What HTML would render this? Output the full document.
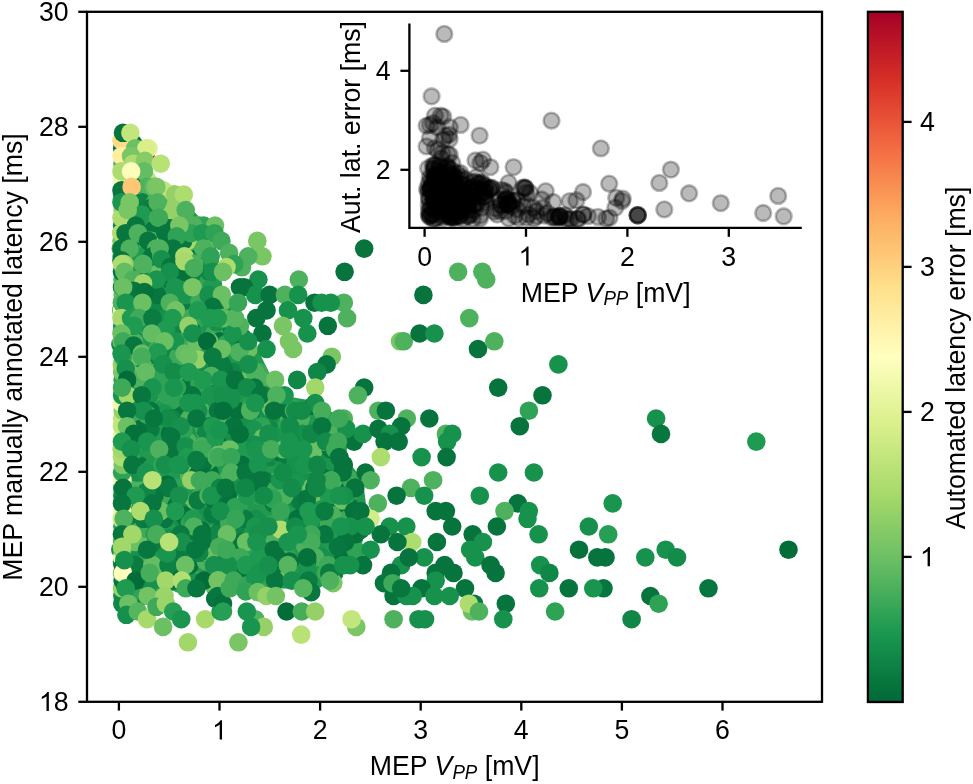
<!DOCTYPE html>
<html><head><meta charset="utf-8"><style>
html,body{margin:0;padding:0;background:#fff;width:973px;height:784px;overflow:hidden}
svg{display:block;will-change:transform}
.t{font-family:"Liberation Sans",sans-serif;font-size:26.7px;fill:#000}
</style></head><body>
<svg width="973" height="784" viewBox="0 0 973 784"><defs><linearGradient id="cb" x1="0" y1="1" x2="0" y2="0"><stop offset="0.00" stop-color="rgb(0, 104, 55)"/><stop offset="0.10" stop-color="rgb(26, 152, 80)"/><stop offset="0.20" stop-color="rgb(102, 189, 99)"/><stop offset="0.30" stop-color="rgb(166, 217, 106)"/><stop offset="0.40" stop-color="rgb(217, 239, 139)"/><stop offset="0.50" stop-color="rgb(255, 255, 191)"/><stop offset="0.60" stop-color="rgb(254, 224, 139)"/><stop offset="0.70" stop-color="rgb(253, 174, 97)"/><stop offset="0.80" stop-color="rgb(244, 109, 67)"/><stop offset="0.90" stop-color="rgb(215, 48, 39)"/><stop offset="1.00" stop-color="rgb(165, 0, 38)"/></linearGradient></defs><rect width="973" height="784" fill="#fff"/><path d="M116.0,133.8 116.0,358.2 118.2,363.2 119.2,371.8 118.8,378.5 116.0,383.5 116.0,391.5 121.0,401.0 121.0,421.2 119.2,431.8 116.0,437.5 116.0,453.5 123.0,460.2 125.5,466.8 124.2,475.5 116.0,486.5 116.0,550.8 117.5,555.2 116.0,574.2 118.8,581.8 118.8,589.8 121.2,596.0 121.5,603.0 140.0,603.0 174.8,590.0 319.5,588.0 334.8,577.8 358.2,558.8 368.0,519.8 363.0,480.8 348.0,460.5 343.0,421.0 319.0,401.8 283.0,395.8 268.8,372.0 256.0,345.5 238.0,320.8 223.0,290.8 218.0,255.2 210.2,231.0 198.8,216.5 181.5,199.2 158.0,180.8 147.8,165.0 140.2,141.2 127.5,132.0z" fill="#23994f" fill-rule="evenodd"/><g><circle cx="278.8" cy="560.1" r="9.3" fill="#1e9a51"/><circle cx="170.8" cy="271.8" r="9.3" fill="#3ea959"/><circle cx="331.7" cy="511.1" r="9.3" fill="#08773f"/><circle cx="191.8" cy="260.0" r="9.3" fill="#19954f"/><circle cx="178.8" cy="341.3" r="9.3" fill="#19954f"/><circle cx="324.0" cy="426.2" r="9.3" fill="#19954f"/><circle cx="153.3" cy="422.1" r="9.3" fill="#08773f"/><circle cx="235.9" cy="569.8" r="9.3" fill="#05723c"/><circle cx="182.3" cy="549.7" r="9.3" fill="#0b7c41"/><circle cx="338.7" cy="433.9" r="9.3" fill="#19954f"/><circle cx="256.1" cy="372.1" r="9.3" fill="#1e9a51"/><circle cx="207.5" cy="415.1" r="9.3" fill="#4eb15d"/><circle cx="126.0" cy="313.0" r="9.3" fill="#1e9a51"/><circle cx="150.6" cy="518.8" r="9.3" fill="#108647"/><circle cx="269.3" cy="418.5" r="9.3" fill="#16904c"/><circle cx="145.5" cy="534.3" r="9.3" fill="#2ea255"/><circle cx="162.0" cy="572.9" r="9.3" fill="#0b7c41"/><circle cx="158.7" cy="553.8" r="9.3" fill="#1e9a51"/><circle cx="283.2" cy="403.0" r="9.3" fill="#05723c"/><circle cx="120.3" cy="549.7" r="9.3" fill="#16904c"/><circle cx="236.3" cy="390.6" r="9.3" fill="#19954f"/><circle cx="143.2" cy="596.0" r="9.3" fill="#108647"/><circle cx="251.4" cy="549.7" r="9.3" fill="#2ea255"/><circle cx="269.4" cy="457.1" r="9.3" fill="#108647"/><circle cx="206.0" cy="376.8" r="9.3" fill="#19954f"/><circle cx="313.3" cy="518.8" r="9.3" fill="#3ea959"/><circle cx="146.9" cy="325.8" r="9.3" fill="#4eb15d"/><circle cx="163.6" cy="302.7" r="9.3" fill="#3ea959"/><circle cx="158.4" cy="294.9" r="9.3" fill="#108647"/><circle cx="249.2" cy="379.9" r="9.3" fill="#6cc064"/><circle cx="352.1" cy="485.2" r="9.3" fill="#1e9a51"/><circle cx="225.2" cy="549.7" r="9.3" fill="#1e9a51"/><circle cx="221.1" cy="572.9" r="9.3" fill="#08773f"/><circle cx="226.1" cy="377.0" r="9.3" fill="#05723c"/><circle cx="327.6" cy="453.1" r="9.3" fill="#108647"/><circle cx="199.8" cy="318.1" r="9.3" fill="#2ea255"/><circle cx="167.5" cy="569.0" r="9.3" fill="#3ea959"/><circle cx="140.3" cy="418.5" r="9.3" fill="#4eb15d"/><circle cx="239.4" cy="413.4" r="9.3" fill="#19954f"/><circle cx="235.8" cy="429.6" r="9.3" fill="#2ea255"/><circle cx="126.7" cy="325.8" r="9.3" fill="#05723c"/><circle cx="330.1" cy="480.2" r="9.3" fill="#3ea959"/><circle cx="140.6" cy="568.0" r="9.3" fill="#2ea255"/><circle cx="178.2" cy="245.6" r="9.3" fill="#addc6f"/><circle cx="160.6" cy="400.0" r="9.3" fill="#0b7c41"/><circle cx="193.9" cy="580.6" r="9.3" fill="#05723c"/><circle cx="255.4" cy="518.8" r="9.3" fill="#16904c"/><circle cx="201.4" cy="279.5" r="9.3" fill="#2ea255"/><circle cx="140.4" cy="428.9" r="9.3" fill="#08773f"/><circle cx="194.7" cy="542.0" r="9.3" fill="#3ea959"/><circle cx="317.1" cy="553.1" r="9.3" fill="#19954f"/><circle cx="264.9" cy="433.9" r="9.3" fill="#0b7c41"/><circle cx="288.5" cy="433.9" r="9.3" fill="#6cc064"/><circle cx="305.0" cy="545.6" r="9.3" fill="#4eb15d"/><circle cx="168.0" cy="398.4" r="9.3" fill="#1e9a51"/><circle cx="233.3" cy="441.6" r="9.3" fill="#6cc064"/><circle cx="137.3" cy="310.4" r="9.3" fill="#4eb15d"/><circle cx="288.9" cy="526.5" r="9.3" fill="#08773f"/><circle cx="211.8" cy="305.3" r="9.3" fill="#2ea255"/><circle cx="168.1" cy="245.0" r="9.3" fill="#08773f"/><circle cx="199.1" cy="349.0" r="9.3" fill="#1e9a51"/><circle cx="313.2" cy="405.8" r="9.3" fill="#05723c"/><circle cx="146.0" cy="186.9" r="9.3" fill="#0b7c41"/><circle cx="192.7" cy="526.5" r="9.3" fill="#05723c"/><circle cx="227.4" cy="553.7" r="9.3" fill="#4eb15d"/><circle cx="306.4" cy="503.4" r="9.3" fill="#16904c"/><circle cx="333.0" cy="452.0" r="9.3" fill="#108647"/><circle cx="127.3" cy="376.6" r="9.3" fill="#16904c"/><circle cx="181.9" cy="387.6" r="9.3" fill="#0b7c41"/><circle cx="159.8" cy="511.1" r="9.3" fill="#3ea959"/><circle cx="284.0" cy="472.5" r="9.3" fill="#16904c"/><circle cx="315.1" cy="492.5" r="9.3" fill="#6cc064"/><circle cx="212.1" cy="328.6" r="9.3" fill="#19954f"/><circle cx="214.6" cy="390.8" r="9.3" fill="#05723c"/><circle cx="334.3" cy="572.9" r="9.3" fill="#108647"/><circle cx="147.2" cy="495.7" r="9.3" fill="#16904c"/><circle cx="302.4" cy="526.5" r="9.3" fill="#16904c"/><circle cx="143.3" cy="171.4" r="9.3" fill="#08773f"/><circle cx="157.7" cy="403.0" r="9.3" fill="#6cc064"/><circle cx="194.7" cy="276.4" r="9.3" fill="#16904c"/><circle cx="176.6" cy="318.1" r="9.3" fill="#3ea959"/><circle cx="157.6" cy="542.0" r="9.3" fill="#0b7c41"/><circle cx="249.4" cy="429.8" r="9.3" fill="#19954f"/><circle cx="216.8" cy="511.1" r="9.3" fill="#19954f"/><circle cx="146.8" cy="179.1" r="9.3" fill="#c3e57d"/><circle cx="246.7" cy="364.4" r="9.3" fill="#6cc064"/><circle cx="195.1" cy="418.5" r="9.3" fill="#6cc064"/><circle cx="173.9" cy="349.0" r="9.3" fill="#05723c"/><circle cx="347.8" cy="495.7" r="9.3" fill="#3ea959"/><circle cx="315.5" cy="468.2" r="9.3" fill="#4eb15d"/><circle cx="339.4" cy="457.1" r="9.3" fill="#6cc064"/><circle cx="198.9" cy="580.6" r="9.3" fill="#3ea959"/><circle cx="151.9" cy="372.1" r="9.3" fill="#108647"/><circle cx="326.5" cy="464.8" r="9.3" fill="#08773f"/><circle cx="227.0" cy="325.8" r="9.3" fill="#05723c"/><circle cx="259.0" cy="495.7" r="9.3" fill="#2ea255"/><circle cx="127.6" cy="480.2" r="9.3" fill="#3ea959"/><circle cx="220.4" cy="472.5" r="9.3" fill="#05723c"/><circle cx="251.3" cy="480.2" r="9.3" fill="#6cc064"/><circle cx="262.0" cy="395.3" r="9.3" fill="#05723c"/><circle cx="232.3" cy="431.1" r="9.3" fill="#05723c"/><circle cx="130.0" cy="410.7" r="9.3" fill="#1e9a51"/><circle cx="170.0" cy="217.7" r="9.3" fill="#4eb15d"/><circle cx="163.4" cy="345.3" r="9.3" fill="#4eb15d"/><circle cx="312.6" cy="468.0" r="9.3" fill="#08773f"/><circle cx="277.5" cy="522.2" r="9.3" fill="#1e9a51"/><circle cx="293.1" cy="433.9" r="9.3" fill="#16904c"/><circle cx="236.0" cy="491.4" r="9.3" fill="#16904c"/><circle cx="338.1" cy="503.4" r="9.3" fill="#6cc064"/><circle cx="215.2" cy="542.0" r="9.3" fill="#16904c"/><circle cx="266.5" cy="395.3" r="9.3" fill="#4eb15d"/><circle cx="293.0" cy="408.0" r="9.3" fill="#2ea255"/><circle cx="189.0" cy="267.1" r="9.3" fill="#0b7c41"/><circle cx="267.0" cy="584.7" r="9.3" fill="#16904c"/><circle cx="182.1" cy="553.9" r="9.3" fill="#108647"/><circle cx="223.5" cy="526.5" r="9.3" fill="#19954f"/><circle cx="210.8" cy="387.6" r="9.3" fill="#108647"/><circle cx="195.5" cy="467.7" r="9.3" fill="#0b7c41"/><circle cx="307.9" cy="521.5" r="9.3" fill="#19954f"/><circle cx="126.9" cy="457.1" r="9.3" fill="#16904c"/><circle cx="176.5" cy="437.0" r="9.3" fill="#16904c"/><circle cx="238.7" cy="379.9" r="9.3" fill="#16904c"/><circle cx="192.6" cy="248.6" r="9.3" fill="#1e9a51"/><circle cx="224.2" cy="499.3" r="9.3" fill="#05723c"/><circle cx="147.0" cy="279.5" r="9.3" fill="#3ea959"/><circle cx="241.8" cy="572.9" r="9.3" fill="#3ea959"/><circle cx="287.2" cy="426.2" r="9.3" fill="#3ea959"/><circle cx="179.4" cy="337.2" r="9.3" fill="#3ea959"/><circle cx="229.2" cy="433.9" r="9.3" fill="#19954f"/><circle cx="147.3" cy="210.0" r="9.3" fill="#c3e57d"/><circle cx="154.6" cy="356.7" r="9.3" fill="#4eb15d"/><circle cx="182.8" cy="511.1" r="9.3" fill="#05723c"/><circle cx="159.7" cy="426.2" r="9.3" fill="#08773f"/><circle cx="222.8" cy="518.8" r="9.3" fill="#16904c"/><circle cx="153.4" cy="572.9" r="9.3" fill="#0b7c41"/><circle cx="289.1" cy="418.5" r="9.3" fill="#4eb15d"/><circle cx="140.9" cy="279.5" r="9.3" fill="#108647"/><circle cx="334.4" cy="568.8" r="9.3" fill="#05723c"/><circle cx="289.8" cy="454.0" r="9.3" fill="#16904c"/><circle cx="200.6" cy="372.1" r="9.3" fill="#1e9a51"/><circle cx="339.9" cy="491.4" r="9.3" fill="#08773f"/><circle cx="130.9" cy="186.9" r="9.3" fill="#4eb15d"/><circle cx="159.8" cy="271.8" r="9.3" fill="#6cc064"/><circle cx="325.9" cy="457.1" r="9.3" fill="#16904c"/><circle cx="167.4" cy="256.3" r="9.3" fill="#3ea959"/><circle cx="182.5" cy="464.8" r="9.3" fill="#6cc064"/><circle cx="145.0" cy="518.8" r="9.3" fill="#19954f"/><circle cx="258.5" cy="534.3" r="9.3" fill="#08773f"/><circle cx="132.8" cy="256.3" r="9.3" fill="#3ea959"/><circle cx="314.6" cy="433.9" r="9.3" fill="#3ea959"/><circle cx="305.7" cy="464.8" r="9.3" fill="#08773f"/><circle cx="236.7" cy="542.0" r="9.3" fill="#16904c"/><circle cx="169.3" cy="256.3" r="9.3" fill="#0b7c41"/><circle cx="127.0" cy="349.0" r="9.3" fill="#08773f"/><circle cx="167.9" cy="483.3" r="9.3" fill="#4eb15d"/><circle cx="183.7" cy="403.0" r="9.3" fill="#6cc064"/><circle cx="143.7" cy="554.1" r="9.3" fill="#4eb15d"/><circle cx="270.6" cy="544.7" r="9.3" fill="#19954f"/><circle cx="181.5" cy="518.8" r="9.3" fill="#16904c"/><circle cx="132.1" cy="400.4" r="9.3" fill="#19954f"/><circle cx="264.2" cy="487.9" r="9.3" fill="#3ea959"/><circle cx="163.5" cy="407.6" r="9.3" fill="#1e9a51"/><circle cx="277.2" cy="518.8" r="9.3" fill="#1e9a51"/><circle cx="257.1" cy="480.2" r="9.3" fill="#08773f"/><circle cx="210.5" cy="387.6" r="9.3" fill="#16904c"/><circle cx="330.8" cy="572.9" r="9.3" fill="#2ea255"/><circle cx="137.3" cy="246.0" r="9.3" fill="#4eb15d"/><circle cx="339.3" cy="565.1" r="9.3" fill="#08773f"/><circle cx="122.0" cy="287.2" r="9.3" fill="#2ea255"/><circle cx="236.8" cy="572.9" r="9.3" fill="#0b7c41"/><circle cx="128.9" cy="210.0" r="9.3" fill="#fdc776"/><circle cx="251.5" cy="487.9" r="9.3" fill="#19954f"/><circle cx="233.1" cy="446.0" r="9.3" fill="#0b7c41"/><circle cx="154.7" cy="194.6" r="9.3" fill="#addc6f"/><circle cx="219.2" cy="491.2" r="9.3" fill="#4eb15d"/><circle cx="193.8" cy="480.2" r="9.3" fill="#16904c"/><circle cx="228.2" cy="418.5" r="9.3" fill="#3ea959"/><circle cx="149.4" cy="472.5" r="9.3" fill="#6cc064"/><circle cx="144.8" cy="565.1" r="9.3" fill="#6cc064"/><circle cx="135.0" cy="287.2" r="9.3" fill="#08773f"/><circle cx="128.1" cy="403.0" r="9.3" fill="#6cc064"/><circle cx="262.3" cy="480.2" r="9.3" fill="#19954f"/><circle cx="152.3" cy="518.8" r="9.3" fill="#16904c"/><circle cx="321.5" cy="557.4" r="9.3" fill="#16904c"/><circle cx="232.3" cy="580.6" r="9.3" fill="#19954f"/><circle cx="210.7" cy="580.6" r="9.3" fill="#6cc064"/><circle cx="219.6" cy="306.8" r="9.3" fill="#0b7c41"/><circle cx="237.2" cy="341.3" r="9.3" fill="#3ea959"/><circle cx="214.3" cy="333.5" r="9.3" fill="#3ea959"/><circle cx="126.5" cy="490.7" r="9.3" fill="#08773f"/><circle cx="262.4" cy="449.3" r="9.3" fill="#16904c"/><circle cx="172.1" cy="240.9" r="9.3" fill="#a8da6b"/><circle cx="185.0" cy="271.8" r="9.3" fill="#19954f"/><circle cx="211.0" cy="279.5" r="9.3" fill="#3ea959"/><circle cx="138.7" cy="464.8" r="9.3" fill="#08773f"/><circle cx="190.0" cy="433.9" r="9.3" fill="#3ea959"/><circle cx="204.0" cy="418.5" r="9.3" fill="#3ea959"/><circle cx="151.6" cy="467.7" r="9.3" fill="#1e9a51"/><circle cx="131.6" cy="596.0" r="9.3" fill="#108647"/><circle cx="178.5" cy="222.1" r="9.3" fill="#4eb15d"/><circle cx="250.7" cy="418.5" r="9.3" fill="#108647"/><circle cx="200.7" cy="284.0" r="9.3" fill="#2ea255"/><circle cx="164.7" cy="287.2" r="9.3" fill="#1e9a51"/><circle cx="135.2" cy="279.5" r="9.3" fill="#05723c"/><circle cx="152.1" cy="565.1" r="9.3" fill="#16904c"/><circle cx="324.9" cy="453.0" r="9.3" fill="#108647"/><circle cx="257.7" cy="426.2" r="9.3" fill="#05723c"/><circle cx="180.3" cy="408.1" r="9.3" fill="#08773f"/><circle cx="128.1" cy="186.9" r="9.3" fill="#4eb15d"/><circle cx="329.3" cy="506.5" r="9.3" fill="#2ea255"/><circle cx="194.1" cy="372.1" r="9.3" fill="#108647"/><circle cx="344.6" cy="557.4" r="9.3" fill="#05723c"/><circle cx="195.5" cy="261.0" r="9.3" fill="#4eb15d"/><circle cx="248.0" cy="369.5" r="9.3" fill="#6cc064"/><circle cx="151.0" cy="322.6" r="9.3" fill="#2ea255"/><circle cx="278.4" cy="480.2" r="9.3" fill="#4eb15d"/><circle cx="225.8" cy="445.2" r="9.3" fill="#108647"/><circle cx="243.1" cy="349.0" r="9.3" fill="#05723c"/><circle cx="272.7" cy="572.9" r="9.3" fill="#1e9a51"/><circle cx="212.3" cy="294.9" r="9.3" fill="#05723c"/><circle cx="128.7" cy="248.6" r="9.3" fill="#4eb15d"/><circle cx="136.3" cy="449.3" r="9.3" fill="#1e9a51"/><circle cx="350.1" cy="516.2" r="9.3" fill="#3ea959"/><circle cx="344.6" cy="549.7" r="9.3" fill="#08773f"/><circle cx="164.1" cy="376.9" r="9.3" fill="#6cc064"/><circle cx="144.0" cy="186.9" r="9.3" fill="#fcfebb"/><circle cx="326.3" cy="572.9" r="9.3" fill="#3ea959"/><circle cx="146.3" cy="217.7" r="9.3" fill="#19954f"/><circle cx="217.8" cy="349.0" r="9.3" fill="#2ea255"/><circle cx="176.5" cy="472.5" r="9.3" fill="#4eb15d"/><circle cx="193.5" cy="557.4" r="9.3" fill="#19954f"/><circle cx="246.4" cy="549.7" r="9.3" fill="#16904c"/><circle cx="153.6" cy="228.5" r="9.3" fill="#4eb15d"/><circle cx="237.4" cy="410.7" r="9.3" fill="#05723c"/><circle cx="329.0" cy="515.2" r="9.3" fill="#16904c"/><circle cx="147.2" cy="387.6" r="9.3" fill="#1e9a51"/><circle cx="262.2" cy="495.7" r="9.3" fill="#19954f"/><circle cx="222.0" cy="503.4" r="9.3" fill="#3ea959"/><circle cx="157.4" cy="433.9" r="9.3" fill="#1e9a51"/><circle cx="249.4" cy="549.7" r="9.3" fill="#2ea255"/><circle cx="236.5" cy="349.0" r="9.3" fill="#6cc064"/><circle cx="209.3" cy="271.8" r="9.3" fill="#108647"/><circle cx="272.6" cy="523.8" r="9.3" fill="#2ea255"/><circle cx="198.8" cy="403.0" r="9.3" fill="#6cc064"/><circle cx="189.4" cy="503.4" r="9.3" fill="#3ea959"/><circle cx="142.1" cy="487.9" r="9.3" fill="#108647"/><circle cx="258.3" cy="487.9" r="9.3" fill="#08773f"/><circle cx="125.9" cy="410.7" r="9.3" fill="#4eb15d"/><circle cx="349.8" cy="506.8" r="9.3" fill="#05723c"/><circle cx="125.5" cy="472.5" r="9.3" fill="#4eb15d"/><circle cx="163.2" cy="256.3" r="9.3" fill="#4eb15d"/><circle cx="269.7" cy="429.5" r="9.3" fill="#108647"/><circle cx="162.2" cy="302.7" r="9.3" fill="#4eb15d"/><circle cx="258.5" cy="372.1" r="9.3" fill="#3ea959"/><circle cx="315.3" cy="441.6" r="9.3" fill="#3ea959"/><circle cx="133.5" cy="349.0" r="9.3" fill="#108647"/><circle cx="124.4" cy="338.4" r="9.3" fill="#16904c"/><circle cx="267.3" cy="410.7" r="9.3" fill="#16904c"/><circle cx="220.2" cy="422.6" r="9.3" fill="#4eb15d"/><circle cx="144.4" cy="526.5" r="9.3" fill="#4eb15d"/><circle cx="190.3" cy="534.3" r="9.3" fill="#08773f"/><circle cx="143.7" cy="364.4" r="9.3" fill="#1e9a51"/><circle cx="176.6" cy="322.8" r="9.3" fill="#05723c"/><circle cx="357.1" cy="511.1" r="9.3" fill="#2ea255"/><circle cx="153.5" cy="356.7" r="9.3" fill="#3ea959"/><circle cx="247.9" cy="568.5" r="9.3" fill="#19954f"/><circle cx="126.1" cy="464.8" r="9.3" fill="#2ea255"/><circle cx="343.0" cy="534.3" r="9.3" fill="#6cc064"/><circle cx="261.1" cy="379.9" r="9.3" fill="#4eb15d"/><circle cx="271.5" cy="449.3" r="9.3" fill="#6cc064"/><circle cx="134.8" cy="367.4" r="9.3" fill="#16904c"/><circle cx="246.2" cy="480.2" r="9.3" fill="#05723c"/><circle cx="287.5" cy="426.2" r="9.3" fill="#2ea255"/><circle cx="173.9" cy="560.3" r="9.3" fill="#05723c"/><circle cx="143.3" cy="383.6" r="9.3" fill="#1e9a51"/><circle cx="220.7" cy="390.2" r="9.3" fill="#05723c"/><circle cx="304.0" cy="580.6" r="9.3" fill="#16904c"/><circle cx="157.6" cy="349.0" r="9.3" fill="#3ea959"/><circle cx="251.1" cy="423.0" r="9.3" fill="#16904c"/><circle cx="221.5" cy="302.7" r="9.3" fill="#6cc064"/><circle cx="336.0" cy="534.3" r="9.3" fill="#08773f"/><circle cx="277.2" cy="565.1" r="9.3" fill="#108647"/><circle cx="207.0" cy="395.3" r="9.3" fill="#1e9a51"/><circle cx="147.4" cy="593.2" r="9.3" fill="#16904c"/><circle cx="289.7" cy="511.1" r="9.3" fill="#08773f"/><circle cx="247.3" cy="457.1" r="9.3" fill="#1e9a51"/><circle cx="323.6" cy="518.8" r="9.3" fill="#108647"/><circle cx="196.8" cy="441.6" r="9.3" fill="#2ea255"/><circle cx="132.6" cy="446.3" r="9.3" fill="#3ea959"/><circle cx="170.8" cy="477.1" r="9.3" fill="#1e9a51"/><circle cx="235.3" cy="487.9" r="9.3" fill="#16904c"/><circle cx="133.7" cy="387.6" r="9.3" fill="#16904c"/><circle cx="278.1" cy="572.9" r="9.3" fill="#2ea255"/><circle cx="125.4" cy="499.3" r="9.3" fill="#4eb15d"/><circle cx="180.6" cy="464.8" r="9.3" fill="#16904c"/><circle cx="197.0" cy="361.8" r="9.3" fill="#16904c"/><circle cx="253.2" cy="461.8" r="9.3" fill="#05723c"/><circle cx="287.4" cy="557.4" r="9.3" fill="#2ea255"/><circle cx="207.7" cy="364.4" r="9.3" fill="#08773f"/><circle cx="196.1" cy="256.3" r="9.3" fill="#08773f"/><circle cx="208.0" cy="508.5" r="9.3" fill="#2ea255"/><circle cx="187.8" cy="523.5" r="9.3" fill="#08773f"/><circle cx="188.9" cy="522.5" r="9.3" fill="#05723c"/><circle cx="275.1" cy="549.7" r="9.3" fill="#6cc064"/><circle cx="210.0" cy="426.2" r="9.3" fill="#05723c"/><circle cx="191.5" cy="318.1" r="9.3" fill="#6cc064"/><circle cx="229.8" cy="511.1" r="9.3" fill="#08773f"/><circle cx="288.1" cy="449.3" r="9.3" fill="#0b7c41"/><circle cx="218.8" cy="487.9" r="9.3" fill="#3ea959"/><circle cx="134.3" cy="349.0" r="9.3" fill="#0b7c41"/><circle cx="173.3" cy="511.1" r="9.3" fill="#1e9a51"/><circle cx="332.2" cy="480.2" r="9.3" fill="#3ea959"/><circle cx="311.7" cy="464.8" r="9.3" fill="#1e9a51"/><circle cx="190.4" cy="449.3" r="9.3" fill="#4eb15d"/><circle cx="223.8" cy="538.1" r="9.3" fill="#16904c"/><circle cx="168.8" cy="372.1" r="9.3" fill="#2ea255"/><circle cx="135.0" cy="318.1" r="9.3" fill="#05723c"/><circle cx="133.2" cy="492.5" r="9.3" fill="#6cc064"/><circle cx="205.4" cy="372.1" r="9.3" fill="#3ea959"/><circle cx="193.0" cy="271.8" r="9.3" fill="#0b7c41"/><circle cx="171.8" cy="580.6" r="9.3" fill="#16904c"/><circle cx="138.0" cy="294.9" r="9.3" fill="#08773f"/><circle cx="219.9" cy="572.9" r="9.3" fill="#1e9a51"/><circle cx="149.5" cy="395.3" r="9.3" fill="#19954f"/><circle cx="179.3" cy="503.4" r="9.3" fill="#2ea255"/><circle cx="137.6" cy="217.7" r="9.3" fill="#7ac665"/><circle cx="311.1" cy="538.7" r="9.3" fill="#05723c"/><circle cx="195.2" cy="314.7" r="9.3" fill="#2ea255"/><circle cx="223.8" cy="499.0" r="9.3" fill="#19954f"/><circle cx="184.7" cy="356.7" r="9.3" fill="#05723c"/><circle cx="292.6" cy="438.3" r="9.3" fill="#108647"/><circle cx="138.4" cy="212.7" r="9.3" fill="#08773f"/><circle cx="193.4" cy="264.1" r="9.3" fill="#4eb15d"/><circle cx="326.8" cy="572.9" r="9.3" fill="#3ea959"/><circle cx="205.9" cy="433.9" r="9.3" fill="#108647"/><circle cx="339.8" cy="426.2" r="9.3" fill="#4eb15d"/><circle cx="208.8" cy="511.1" r="9.3" fill="#19954f"/><circle cx="128.0" cy="318.1" r="9.3" fill="#2ea255"/><circle cx="282.2" cy="457.1" r="9.3" fill="#19954f"/><circle cx="236.0" cy="472.5" r="9.3" fill="#16904c"/><circle cx="161.5" cy="222.1" r="9.3" fill="#08773f"/><circle cx="196.9" cy="302.7" r="9.3" fill="#16904c"/><circle cx="137.9" cy="518.8" r="9.3" fill="#0b7c41"/><circle cx="341.8" cy="526.5" r="9.3" fill="#19954f"/><circle cx="287.4" cy="542.0" r="9.3" fill="#6cc064"/><circle cx="181.2" cy="356.7" r="9.3" fill="#3ea959"/><circle cx="200.6" cy="495.7" r="9.3" fill="#3ea959"/><circle cx="148.1" cy="202.3" r="9.3" fill="#4eb15d"/><circle cx="213.6" cy="349.0" r="9.3" fill="#1e9a51"/><circle cx="307.0" cy="453.5" r="9.3" fill="#6cc064"/><circle cx="183.0" cy="305.7" r="9.3" fill="#05723c"/><circle cx="131.4" cy="279.5" r="9.3" fill="#05723c"/><circle cx="197.3" cy="476.1" r="9.3" fill="#05723c"/><circle cx="172.1" cy="557.4" r="9.3" fill="#05723c"/><circle cx="346.3" cy="495.7" r="9.3" fill="#1e9a51"/><circle cx="153.5" cy="229.7" r="9.3" fill="#08773f"/><circle cx="212.4" cy="287.2" r="9.3" fill="#1e9a51"/><circle cx="219.7" cy="341.3" r="9.3" fill="#05723c"/><circle cx="187.5" cy="310.4" r="9.3" fill="#0b7c41"/><circle cx="211.7" cy="426.2" r="9.3" fill="#108647"/><circle cx="233.8" cy="472.5" r="9.3" fill="#16904c"/><circle cx="339.2" cy="518.8" r="9.3" fill="#3ea959"/><circle cx="290.6" cy="472.5" r="9.3" fill="#4eb15d"/><circle cx="287.4" cy="487.9" r="9.3" fill="#08773f"/><circle cx="283.1" cy="531.6" r="9.3" fill="#1e9a51"/><circle cx="162.2" cy="256.3" r="9.3" fill="#05723c"/><circle cx="300.9" cy="480.2" r="9.3" fill="#16904c"/><circle cx="128.5" cy="583.9" r="9.3" fill="#2ea255"/><circle cx="227.2" cy="376.0" r="9.3" fill="#0b7c41"/><circle cx="176.9" cy="253.5" r="9.3" fill="#19954f"/><circle cx="208.2" cy="503.4" r="9.3" fill="#2ea255"/><circle cx="120.4" cy="344.3" r="9.3" fill="#16904c"/><circle cx="124.4" cy="561.9" r="9.3" fill="#0b7c41"/><circle cx="160.3" cy="325.8" r="9.3" fill="#6cc064"/><circle cx="288.6" cy="503.4" r="9.3" fill="#16904c"/><circle cx="172.0" cy="372.1" r="9.3" fill="#3ea959"/><circle cx="231.3" cy="534.3" r="9.3" fill="#05723c"/><circle cx="182.5" cy="264.1" r="9.3" fill="#05723c"/><circle cx="122.7" cy="325.8" r="9.3" fill="#05723c"/><circle cx="151.4" cy="534.3" r="9.3" fill="#2ea255"/><circle cx="163.0" cy="464.8" r="9.3" fill="#3ea959"/><circle cx="307.5" cy="534.3" r="9.3" fill="#08773f"/><circle cx="239.4" cy="503.4" r="9.3" fill="#2ea255"/><circle cx="244.2" cy="361.3" r="9.3" fill="#19954f"/><circle cx="232.7" cy="321.8" r="9.3" fill="#2ea255"/><circle cx="189.7" cy="253.5" r="9.3" fill="#08773f"/><circle cx="177.0" cy="503.4" r="9.3" fill="#08773f"/><circle cx="165.5" cy="379.9" r="9.3" fill="#08773f"/><circle cx="194.4" cy="240.9" r="9.3" fill="#4eb15d"/><circle cx="245.5" cy="452.1" r="9.3" fill="#16904c"/><circle cx="226.1" cy="344.0" r="9.3" fill="#2ea255"/><circle cx="128.5" cy="225.5" r="9.3" fill="#addc6f"/><circle cx="288.7" cy="410.7" r="9.3" fill="#08773f"/><circle cx="216.4" cy="554.5" r="9.3" fill="#108647"/><circle cx="127.1" cy="588.3" r="9.3" fill="#05723c"/><circle cx="197.9" cy="225.5" r="9.3" fill="#7ac665"/><circle cx="130.5" cy="561.5" r="9.3" fill="#108647"/><circle cx="209.9" cy="534.3" r="9.3" fill="#2ea255"/><circle cx="172.6" cy="400.0" r="9.3" fill="#2ea255"/><circle cx="169.0" cy="349.0" r="9.3" fill="#108647"/><circle cx="189.7" cy="523.3" r="9.3" fill="#1e9a51"/><circle cx="360.6" cy="529.8" r="9.3" fill="#08773f"/><circle cx="148.6" cy="410.7" r="9.3" fill="#16904c"/><circle cx="354.2" cy="557.4" r="9.3" fill="#1e9a51"/><circle cx="207.2" cy="461.2" r="9.3" fill="#3ea959"/><circle cx="185.8" cy="294.9" r="9.3" fill="#19954f"/><circle cx="266.2" cy="583.4" r="9.3" fill="#19954f"/><circle cx="308.0" cy="518.8" r="9.3" fill="#108647"/><circle cx="185.2" cy="379.9" r="9.3" fill="#08773f"/><circle cx="132.6" cy="337.9" r="9.3" fill="#0b7c41"/><circle cx="304.3" cy="503.4" r="9.3" fill="#4eb15d"/><circle cx="188.9" cy="526.5" r="9.3" fill="#05723c"/><circle cx="351.4" cy="480.2" r="9.3" fill="#3ea959"/><circle cx="235.0" cy="529.8" r="9.3" fill="#108647"/><circle cx="206.5" cy="515.6" r="9.3" fill="#16904c"/><circle cx="236.5" cy="557.4" r="9.3" fill="#3ea959"/><circle cx="213.8" cy="487.9" r="9.3" fill="#3ea959"/><circle cx="199.4" cy="382.9" r="9.3" fill="#2ea255"/><circle cx="143.9" cy="523.0" r="9.3" fill="#05723c"/><circle cx="302.6" cy="526.5" r="9.3" fill="#16904c"/><circle cx="332.1" cy="461.6" r="9.3" fill="#19954f"/><circle cx="182.9" cy="503.4" r="9.3" fill="#6cc064"/><circle cx="207.3" cy="487.9" r="9.3" fill="#1e9a51"/><circle cx="260.4" cy="560.2" r="9.3" fill="#19954f"/><circle cx="182.2" cy="376.7" r="9.3" fill="#05723c"/><circle cx="133.4" cy="591.6" r="9.3" fill="#2ea255"/><circle cx="315.3" cy="518.8" r="9.3" fill="#05723c"/><circle cx="252.5" cy="485.3" r="9.3" fill="#1e9a51"/><circle cx="264.3" cy="395.3" r="9.3" fill="#108647"/><circle cx="333.3" cy="480.2" r="9.3" fill="#4eb15d"/><circle cx="236.2" cy="526.5" r="9.3" fill="#108647"/><circle cx="188.6" cy="364.4" r="9.3" fill="#05723c"/><circle cx="191.9" cy="395.3" r="9.3" fill="#08773f"/><circle cx="347.6" cy="549.7" r="9.3" fill="#2ea255"/><circle cx="177.5" cy="487.9" r="9.3" fill="#2ea255"/><circle cx="214.3" cy="503.4" r="9.3" fill="#1e9a51"/><circle cx="154.9" cy="495.7" r="9.3" fill="#4eb15d"/><circle cx="149.4" cy="490.8" r="9.3" fill="#108647"/><circle cx="180.1" cy="511.1" r="9.3" fill="#16904c"/><circle cx="209.2" cy="341.3" r="9.3" fill="#6cc064"/><circle cx="157.6" cy="364.4" r="9.3" fill="#108647"/><circle cx="153.7" cy="310.4" r="9.3" fill="#0b7c41"/><circle cx="127.3" cy="353.1" r="9.3" fill="#4eb15d"/><circle cx="174.3" cy="210.0" r="9.3" fill="#4eb15d"/><circle cx="179.5" cy="583.6" r="9.3" fill="#2ea255"/><circle cx="190.7" cy="403.0" r="9.3" fill="#05723c"/><circle cx="299.8" cy="500.3" r="9.3" fill="#0b7c41"/><circle cx="169.4" cy="538.4" r="9.3" fill="#16904c"/><circle cx="172.5" cy="364.4" r="9.3" fill="#16904c"/><circle cx="250.7" cy="461.3" r="9.3" fill="#6cc064"/><circle cx="135.0" cy="222.4" r="9.3" fill="#08773f"/><circle cx="281.3" cy="511.1" r="9.3" fill="#3ea959"/><circle cx="122.0" cy="561.9" r="9.3" fill="#19954f"/><circle cx="257.8" cy="521.8" r="9.3" fill="#16904c"/><circle cx="278.9" cy="452.2" r="9.3" fill="#08773f"/><circle cx="130.4" cy="189.6" r="9.3" fill="#65bd63"/><circle cx="194.5" cy="372.1" r="9.3" fill="#3ea959"/><circle cx="166.4" cy="318.1" r="9.3" fill="#0b7c41"/><circle cx="173.2" cy="213.7" r="9.3" fill="#4eb15d"/><circle cx="322.2" cy="449.3" r="9.3" fill="#108647"/><circle cx="308.5" cy="449.3" r="9.3" fill="#08773f"/><circle cx="158.5" cy="495.7" r="9.3" fill="#108647"/><circle cx="245.1" cy="446.0" r="9.3" fill="#16904c"/><circle cx="182.8" cy="341.3" r="9.3" fill="#3ea959"/><circle cx="140.9" cy="176.4" r="9.3" fill="#08773f"/><circle cx="250.8" cy="406.5" r="9.3" fill="#2ea255"/><circle cx="203.5" cy="477.0" r="9.3" fill="#4eb15d"/><circle cx="278.2" cy="549.7" r="9.3" fill="#4eb15d"/><circle cx="138.9" cy="356.7" r="9.3" fill="#08773f"/><circle cx="338.1" cy="503.4" r="9.3" fill="#05723c"/><circle cx="122.4" cy="487.9" r="9.3" fill="#3ea959"/><circle cx="144.1" cy="379.9" r="9.3" fill="#2ea255"/><circle cx="127.8" cy="183.8" r="9.3" fill="#7ac665"/><circle cx="310.5" cy="530.0" r="9.3" fill="#4eb15d"/><circle cx="266.1" cy="403.0" r="9.3" fill="#0b7c41"/><circle cx="244.1" cy="352.8" r="9.3" fill="#19954f"/><circle cx="158.4" cy="542.0" r="9.3" fill="#19954f"/><circle cx="137.7" cy="349.0" r="9.3" fill="#2ea255"/><circle cx="150.5" cy="428.9" r="9.3" fill="#0b7c41"/><circle cx="203.3" cy="248.6" r="9.3" fill="#3ea959"/><circle cx="239.2" cy="572.9" r="9.3" fill="#108647"/><circle cx="288.0" cy="526.5" r="9.3" fill="#2ea255"/><circle cx="256.9" cy="480.2" r="9.3" fill="#19954f"/><circle cx="148.5" cy="240.9" r="9.3" fill="#7ac665"/><circle cx="265.2" cy="495.7" r="9.3" fill="#6cc064"/><circle cx="136.1" cy="167.6" r="9.3" fill="#b71126"/><circle cx="280.0" cy="500.2" r="9.3" fill="#1e9a51"/><circle cx="208.5" cy="580.6" r="9.3" fill="#4eb15d"/><circle cx="190.2" cy="580.6" r="9.3" fill="#19954f"/><circle cx="151.8" cy="542.0" r="9.3" fill="#6cc064"/><circle cx="300.0" cy="464.8" r="9.3" fill="#4eb15d"/><circle cx="254.9" cy="372.1" r="9.3" fill="#4eb15d"/><circle cx="209.1" cy="544.6" r="9.3" fill="#19954f"/><circle cx="153.3" cy="499.5" r="9.3" fill="#4eb15d"/><circle cx="184.4" cy="214.2" r="9.3" fill="#4eb15d"/><circle cx="197.7" cy="500.4" r="9.3" fill="#0b7c41"/><circle cx="189.4" cy="565.1" r="9.3" fill="#05723c"/><circle cx="156.1" cy="356.7" r="9.3" fill="#6cc064"/><circle cx="256.8" cy="464.8" r="9.3" fill="#1e9a51"/><circle cx="205.2" cy="245.2" r="9.3" fill="#6cc064"/><circle cx="290.4" cy="468.3" r="9.3" fill="#08773f"/><circle cx="161.2" cy="495.7" r="9.3" fill="#3ea959"/><circle cx="127.8" cy="310.4" r="9.3" fill="#3ea959"/><circle cx="200.9" cy="542.0" r="9.3" fill="#0b7c41"/><circle cx="295.5" cy="464.8" r="9.3" fill="#6cc064"/><circle cx="311.1" cy="487.9" r="9.3" fill="#6cc064"/><circle cx="132.7" cy="499.8" r="9.3" fill="#4eb15d"/><circle cx="224.5" cy="433.9" r="9.3" fill="#1e9a51"/><circle cx="122.4" cy="233.2" r="9.3" fill="#08773f"/><circle cx="173.8" cy="580.6" r="9.3" fill="#08773f"/><circle cx="247.0" cy="441.6" r="9.3" fill="#1e9a51"/><circle cx="131.2" cy="351.6" r="9.3" fill="#2ea255"/><circle cx="191.1" cy="441.6" r="9.3" fill="#4eb15d"/><circle cx="202.5" cy="464.8" r="9.3" fill="#08773f"/><circle cx="320.6" cy="530.1" r="9.3" fill="#6cc064"/><circle cx="338.6" cy="444.6" r="9.3" fill="#1e9a51"/><circle cx="121.7" cy="256.3" r="9.3" fill="#3ea959"/><circle cx="178.1" cy="210.0" r="9.3" fill="#4eb15d"/><circle cx="159.1" cy="495.7" r="9.3" fill="#3ea959"/><circle cx="146.8" cy="256.3" r="9.3" fill="#0b7c41"/><circle cx="128.9" cy="467.8" r="9.3" fill="#0b7c41"/><circle cx="189.8" cy="542.0" r="9.3" fill="#16904c"/><circle cx="205.7" cy="561.1" r="9.3" fill="#4eb15d"/><circle cx="229.6" cy="503.4" r="9.3" fill="#6cc064"/><circle cx="189.9" cy="441.6" r="9.3" fill="#19954f"/><circle cx="235.6" cy="349.0" r="9.3" fill="#16904c"/><circle cx="317.0" cy="464.8" r="9.3" fill="#6cc064"/><circle cx="151.4" cy="240.9" r="9.3" fill="#4eb15d"/><circle cx="271.0" cy="580.6" r="9.3" fill="#4eb15d"/><circle cx="164.2" cy="413.4" r="9.3" fill="#19954f"/><circle cx="180.8" cy="549.7" r="9.3" fill="#4eb15d"/><circle cx="187.3" cy="240.9" r="9.3" fill="#a8da6b"/><circle cx="209.1" cy="549.7" r="9.3" fill="#108647"/><circle cx="230.9" cy="399.7" r="9.3" fill="#16904c"/><circle cx="169.8" cy="256.3" r="9.3" fill="#05723c"/><circle cx="180.2" cy="375.0" r="9.3" fill="#0b7c41"/><circle cx="137.1" cy="503.4" r="9.3" fill="#108647"/><circle cx="229.9" cy="433.9" r="9.3" fill="#08773f"/><circle cx="147.3" cy="325.8" r="9.3" fill="#4eb15d"/><circle cx="258.6" cy="557.4" r="9.3" fill="#1e9a51"/><circle cx="237.4" cy="464.8" r="9.3" fill="#1e9a51"/><circle cx="290.5" cy="538.0" r="9.3" fill="#3ea959"/><circle cx="219.5" cy="572.9" r="9.3" fill="#6cc064"/><circle cx="315.0" cy="557.4" r="9.3" fill="#4eb15d"/><circle cx="153.4" cy="487.9" r="9.3" fill="#16904c"/><circle cx="201.2" cy="372.1" r="9.3" fill="#2ea255"/><circle cx="162.6" cy="418.5" r="9.3" fill="#1e9a51"/><circle cx="327.8" cy="449.3" r="9.3" fill="#16904c"/><circle cx="127.2" cy="549.7" r="9.3" fill="#4eb15d"/><circle cx="283.7" cy="572.9" r="9.3" fill="#6cc064"/><circle cx="300.7" cy="418.5" r="9.3" fill="#4eb15d"/><circle cx="206.0" cy="364.4" r="9.3" fill="#16904c"/><circle cx="170.1" cy="333.5" r="9.3" fill="#4eb15d"/><circle cx="186.8" cy="433.9" r="9.3" fill="#19954f"/><circle cx="329.2" cy="423.0" r="9.3" fill="#2ea255"/><circle cx="211.6" cy="534.3" r="9.3" fill="#2ea255"/><circle cx="229.9" cy="449.3" r="9.3" fill="#6cc064"/><circle cx="301.7" cy="515.0" r="9.3" fill="#0b7c41"/><circle cx="280.5" cy="491.9" r="9.3" fill="#1e9a51"/><circle cx="140.5" cy="472.5" r="9.3" fill="#05723c"/><circle cx="350.7" cy="549.7" r="9.3" fill="#05723c"/><circle cx="226.0" cy="464.8" r="9.3" fill="#1e9a51"/><circle cx="175.9" cy="449.3" r="9.3" fill="#05723c"/><circle cx="130.1" cy="244.6" r="9.3" fill="#08773f"/><circle cx="250.2" cy="410.7" r="9.3" fill="#4eb15d"/><circle cx="148.3" cy="588.3" r="9.3" fill="#4eb15d"/><circle cx="171.8" cy="426.2" r="9.3" fill="#08773f"/><circle cx="157.7" cy="542.0" r="9.3" fill="#0b7c41"/><circle cx="316.4" cy="480.2" r="9.3" fill="#3ea959"/><circle cx="248.5" cy="349.0" r="9.3" fill="#6cc064"/><circle cx="262.2" cy="572.9" r="9.3" fill="#1e9a51"/><circle cx="222.1" cy="518.8" r="9.3" fill="#3ea959"/><circle cx="342.3" cy="500.4" r="9.3" fill="#6cc064"/><circle cx="138.6" cy="256.3" r="9.3" fill="#1e9a51"/><circle cx="224.2" cy="318.1" r="9.3" fill="#19954f"/><circle cx="135.3" cy="148.3" r="9.3" fill="#b71126"/><circle cx="233.4" cy="580.6" r="9.3" fill="#4eb15d"/><circle cx="328.9" cy="495.7" r="9.3" fill="#1e9a51"/><circle cx="213.7" cy="585.6" r="9.3" fill="#6cc064"/><circle cx="126.3" cy="557.4" r="9.3" fill="#19954f"/><circle cx="221.0" cy="372.1" r="9.3" fill="#16904c"/><circle cx="173.1" cy="376.4" r="9.3" fill="#6cc064"/><circle cx="236.1" cy="554.8" r="9.3" fill="#1e9a51"/><circle cx="121.9" cy="199.1" r="9.3" fill="#addc6f"/><circle cx="273.5" cy="503.4" r="9.3" fill="#0b7c41"/><circle cx="275.7" cy="436.6" r="9.3" fill="#19954f"/><circle cx="168.7" cy="279.5" r="9.3" fill="#0b7c41"/><circle cx="230.7" cy="390.9" r="9.3" fill="#16904c"/><circle cx="238.6" cy="467.9" r="9.3" fill="#05723c"/><circle cx="209.9" cy="375.6" r="9.3" fill="#108647"/><circle cx="133.2" cy="143.6" r="9.3" fill="#07743d"/><circle cx="271.0" cy="534.3" r="9.3" fill="#4eb15d"/><circle cx="161.4" cy="379.9" r="9.3" fill="#1e9a51"/><circle cx="140.1" cy="184.1" r="9.3" fill="#08773f"/><circle cx="191.4" cy="275.2" r="9.3" fill="#108647"/><circle cx="130.5" cy="179.1" r="9.3" fill="#08773f"/><circle cx="287.2" cy="449.3" r="9.3" fill="#2ea255"/><circle cx="304.4" cy="446.5" r="9.3" fill="#2ea255"/><circle cx="259.2" cy="484.6" r="9.3" fill="#05723c"/><circle cx="167.2" cy="484.6" r="9.3" fill="#05723c"/><circle cx="162.0" cy="379.9" r="9.3" fill="#2ea255"/><circle cx="226.4" cy="529.6" r="9.3" fill="#0b7c41"/><circle cx="183.9" cy="515.4" r="9.3" fill="#05723c"/><circle cx="228.8" cy="546.6" r="9.3" fill="#2ea255"/><circle cx="289.4" cy="561.5" r="9.3" fill="#05723c"/><circle cx="301.7" cy="534.3" r="9.3" fill="#1e9a51"/><circle cx="134.4" cy="356.7" r="9.3" fill="#6cc064"/><circle cx="125.6" cy="507.8" r="9.3" fill="#1e9a51"/><circle cx="303.2" cy="580.6" r="9.3" fill="#19954f"/><circle cx="236.7" cy="565.1" r="9.3" fill="#16904c"/><circle cx="221.1" cy="529.7" r="9.3" fill="#0b7c41"/><circle cx="201.2" cy="259.5" r="9.3" fill="#16904c"/><circle cx="167.6" cy="333.5" r="9.3" fill="#08773f"/><circle cx="136.3" cy="151.6" r="9.3" fill="#b71126"/><circle cx="129.9" cy="457.1" r="9.3" fill="#3ea959"/><circle cx="163.5" cy="244.5" r="9.3" fill="#08773f"/><circle cx="173.6" cy="225.5" r="9.3" fill="#08773f"/><circle cx="200.2" cy="349.0" r="9.3" fill="#2ea255"/><circle cx="336.8" cy="433.9" r="9.3" fill="#4eb15d"/><circle cx="242.2" cy="457.1" r="9.3" fill="#1e9a51"/><circle cx="242.7" cy="477.1" r="9.3" fill="#1e9a51"/><circle cx="197.0" cy="549.7" r="9.3" fill="#0b7c41"/><circle cx="216.7" cy="534.3" r="9.3" fill="#108647"/><circle cx="314.4" cy="449.3" r="9.3" fill="#6cc064"/><circle cx="188.5" cy="542.0" r="9.3" fill="#08773f"/><circle cx="125.4" cy="156.0" r="9.3" fill="#c3e57d"/><circle cx="171.6" cy="418.5" r="9.3" fill="#108647"/><circle cx="229.2" cy="523.0" r="9.3" fill="#3ea959"/><circle cx="150.6" cy="410.7" r="9.3" fill="#08773f"/><circle cx="132.0" cy="374.7" r="9.3" fill="#6cc064"/><circle cx="217.0" cy="322.3" r="9.3" fill="#16904c"/><circle cx="183.1" cy="240.9" r="9.3" fill="#08773f"/><circle cx="137.9" cy="395.3" r="9.3" fill="#05723c"/><circle cx="302.5" cy="433.9" r="9.3" fill="#16904c"/><circle cx="288.4" cy="515.4" r="9.3" fill="#1e9a51"/><circle cx="230.5" cy="431.2" r="9.3" fill="#16904c"/><circle cx="139.9" cy="382.9" r="9.3" fill="#0b7c41"/><circle cx="170.7" cy="426.2" r="9.3" fill="#08773f"/><circle cx="212.4" cy="495.7" r="9.3" fill="#08773f"/><circle cx="261.7" cy="426.2" r="9.3" fill="#2ea255"/><circle cx="267.1" cy="453.3" r="9.3" fill="#19954f"/><circle cx="232.0" cy="503.4" r="9.3" fill="#6cc064"/><circle cx="189.5" cy="418.5" r="9.3" fill="#4eb15d"/><circle cx="165.0" cy="318.1" r="9.3" fill="#05723c"/><circle cx="129.0" cy="330.8" r="9.3" fill="#4eb15d"/><circle cx="212.8" cy="514.0" r="9.3" fill="#0b7c41"/><circle cx="168.7" cy="421.3" r="9.3" fill="#2ea255"/><circle cx="177.0" cy="426.2" r="9.3" fill="#0b7c41"/><circle cx="261.0" cy="433.9" r="9.3" fill="#3ea959"/><circle cx="183.9" cy="271.8" r="9.3" fill="#05723c"/><circle cx="297.7" cy="518.8" r="9.3" fill="#05723c"/><circle cx="343.1" cy="464.8" r="9.3" fill="#05723c"/><circle cx="168.6" cy="569.2" r="9.3" fill="#4eb15d"/><circle cx="233.1" cy="372.1" r="9.3" fill="#108647"/><circle cx="352.1" cy="530.7" r="9.3" fill="#2ea255"/><circle cx="123.9" cy="333.5" r="9.3" fill="#1e9a51"/><circle cx="208.5" cy="495.7" r="9.3" fill="#4eb15d"/><circle cx="330.6" cy="449.3" r="9.3" fill="#08773f"/><circle cx="227.5" cy="469.5" r="9.3" fill="#1e9a51"/><circle cx="148.7" cy="325.8" r="9.3" fill="#16904c"/><circle cx="123.9" cy="167.3" r="9.3" fill="#d8ef8b"/><circle cx="333.4" cy="562.4" r="9.3" fill="#16904c"/><circle cx="292.2" cy="410.7" r="9.3" fill="#08773f"/><circle cx="207.4" cy="240.9" r="9.3" fill="#6cc064"/><circle cx="127.6" cy="302.7" r="9.3" fill="#2ea255"/><circle cx="190.2" cy="318.1" r="9.3" fill="#3ea959"/><circle cx="136.7" cy="483.2" r="9.3" fill="#4eb15d"/><circle cx="295.5" cy="480.2" r="9.3" fill="#19954f"/><circle cx="164.3" cy="306.2" r="9.3" fill="#1e9a51"/><circle cx="128.0" cy="472.5" r="9.3" fill="#16904c"/><circle cx="244.4" cy="518.8" r="9.3" fill="#0b7c41"/><circle cx="343.6" cy="557.4" r="9.3" fill="#05723c"/><circle cx="142.8" cy="379.9" r="9.3" fill="#2ea255"/><circle cx="290.4" cy="441.6" r="9.3" fill="#05723c"/><circle cx="196.6" cy="229.0" r="9.3" fill="#2ea255"/><circle cx="120.7" cy="248.6" r="9.3" fill="#65bd63"/><circle cx="198.2" cy="410.7" r="9.3" fill="#16904c"/><circle cx="140.1" cy="403.0" r="9.3" fill="#16904c"/><circle cx="305.5" cy="464.8" r="9.3" fill="#2ea255"/><circle cx="253.9" cy="429.8" r="9.3" fill="#19954f"/><circle cx="164.6" cy="518.8" r="9.3" fill="#08773f"/><circle cx="173.9" cy="572.9" r="9.3" fill="#2ea255"/><circle cx="218.9" cy="454.4" r="9.3" fill="#6cc064"/><circle cx="270.7" cy="407.7" r="9.3" fill="#6cc064"/><circle cx="129.1" cy="414.4" r="9.3" fill="#3ea959"/><circle cx="214.8" cy="310.4" r="9.3" fill="#0b7c41"/><circle cx="192.2" cy="549.7" r="9.3" fill="#6cc064"/><circle cx="215.3" cy="372.1" r="9.3" fill="#08773f"/><circle cx="229.7" cy="353.2" r="9.3" fill="#1e9a51"/><circle cx="155.0" cy="333.5" r="9.3" fill="#16904c"/><circle cx="133.8" cy="341.3" r="9.3" fill="#4eb15d"/><circle cx="217.2" cy="503.4" r="9.3" fill="#19954f"/><circle cx="201.3" cy="530.6" r="9.3" fill="#05723c"/><circle cx="121.3" cy="310.4" r="9.3" fill="#2ea255"/><circle cx="270.6" cy="584.9" r="9.3" fill="#2ea255"/><circle cx="140.1" cy="472.5" r="9.3" fill="#1e9a51"/><circle cx="146.9" cy="565.1" r="9.3" fill="#08773f"/><circle cx="178.3" cy="356.7" r="9.3" fill="#3ea959"/><circle cx="139.0" cy="531.0" r="9.3" fill="#3ea959"/><circle cx="242.5" cy="337.3" r="9.3" fill="#08773f"/><circle cx="205.2" cy="477.3" r="9.3" fill="#05723c"/><circle cx="314.4" cy="487.9" r="9.3" fill="#0b7c41"/><circle cx="170.0" cy="433.9" r="9.3" fill="#05723c"/><circle cx="159.9" cy="577.5" r="9.3" fill="#6cc064"/><circle cx="136.5" cy="557.4" r="9.3" fill="#3ea959"/><circle cx="296.7" cy="464.8" r="9.3" fill="#16904c"/><circle cx="227.2" cy="480.2" r="9.3" fill="#4eb15d"/><circle cx="181.7" cy="256.3" r="9.3" fill="#19954f"/><circle cx="137.6" cy="430.7" r="9.3" fill="#05723c"/><circle cx="125.5" cy="294.9" r="9.3" fill="#19954f"/><circle cx="246.1" cy="569.0" r="9.3" fill="#05723c"/><circle cx="170.6" cy="568.7" r="9.3" fill="#05723c"/><circle cx="263.9" cy="480.2" r="9.3" fill="#0b7c41"/><circle cx="122.4" cy="140.5" r="9.3" fill="#6cc064"/><circle cx="132.7" cy="436.6" r="9.3" fill="#108647"/><circle cx="133.1" cy="549.7" r="9.3" fill="#16904c"/><circle cx="209.5" cy="553.3" r="9.3" fill="#6cc064"/><circle cx="179.5" cy="549.7" r="9.3" fill="#1e9a51"/><circle cx="165.0" cy="310.4" r="9.3" fill="#19954f"/><circle cx="199.1" cy="302.7" r="9.3" fill="#3ea959"/><circle cx="175.1" cy="557.4" r="9.3" fill="#6cc064"/><circle cx="199.3" cy="552.8" r="9.3" fill="#108647"/><circle cx="331.7" cy="534.3" r="9.3" fill="#1e9a51"/><circle cx="168.6" cy="487.9" r="9.3" fill="#0b7c41"/><circle cx="165.6" cy="240.9" r="9.3" fill="#a8da6b"/><circle cx="223.7" cy="368.9" r="9.3" fill="#08773f"/><circle cx="182.9" cy="215.1" r="9.3" fill="#addc6f"/><circle cx="324.5" cy="441.6" r="9.3" fill="#6cc064"/><circle cx="212.1" cy="318.1" r="9.3" fill="#108647"/><circle cx="327.7" cy="514.6" r="9.3" fill="#108647"/><circle cx="242.1" cy="542.0" r="9.3" fill="#08773f"/><circle cx="175.2" cy="233.2" r="9.3" fill="#2ea255"/><circle cx="356.4" cy="511.1" r="9.3" fill="#19954f"/><circle cx="332.1" cy="515.4" r="9.3" fill="#4eb15d"/><circle cx="227.7" cy="495.7" r="9.3" fill="#05723c"/><circle cx="154.5" cy="495.7" r="9.3" fill="#08773f"/><circle cx="277.1" cy="557.4" r="9.3" fill="#05723c"/><circle cx="167.0" cy="395.3" r="9.3" fill="#2ea255"/><circle cx="145.6" cy="299.3" r="9.3" fill="#108647"/><circle cx="174.1" cy="452.9" r="9.3" fill="#08773f"/><circle cx="284.4" cy="495.7" r="9.3" fill="#4eb15d"/><circle cx="158.7" cy="372.1" r="9.3" fill="#2ea255"/><circle cx="268.5" cy="491.5" r="9.3" fill="#3ea959"/><circle cx="158.1" cy="356.7" r="9.3" fill="#108647"/><circle cx="178.8" cy="557.4" r="9.3" fill="#0b7c41"/><circle cx="213.6" cy="499.8" r="9.3" fill="#08773f"/><circle cx="329.2" cy="526.5" r="9.3" fill="#3ea959"/><circle cx="191.4" cy="330.0" r="9.3" fill="#0b7c41"/><circle cx="239.3" cy="352.1" r="9.3" fill="#4eb15d"/><circle cx="187.7" cy="441.6" r="9.3" fill="#4eb15d"/><circle cx="163.6" cy="318.1" r="9.3" fill="#16904c"/><circle cx="176.9" cy="387.6" r="9.3" fill="#2ea255"/><circle cx="189.8" cy="523.2" r="9.3" fill="#2ea255"/><circle cx="192.8" cy="518.8" r="9.3" fill="#1e9a51"/><circle cx="221.8" cy="364.4" r="9.3" fill="#0b7c41"/><circle cx="196.6" cy="341.3" r="9.3" fill="#6cc064"/><circle cx="241.0" cy="480.2" r="9.3" fill="#16904c"/><circle cx="155.2" cy="302.7" r="9.3" fill="#108647"/><circle cx="154.9" cy="534.3" r="9.3" fill="#1e9a51"/><circle cx="306.7" cy="498.9" r="9.3" fill="#08773f"/><circle cx="146.5" cy="491.9" r="9.3" fill="#108647"/><circle cx="263.1" cy="437.8" r="9.3" fill="#6cc064"/><circle cx="311.0" cy="522.9" r="9.3" fill="#108647"/><circle cx="140.6" cy="294.9" r="9.3" fill="#0b7c41"/><circle cx="160.5" cy="511.1" r="9.3" fill="#6cc064"/><circle cx="285.9" cy="454.3" r="9.3" fill="#0b7c41"/><circle cx="355.4" cy="549.7" r="9.3" fill="#2ea255"/><circle cx="136.5" cy="472.5" r="9.3" fill="#16904c"/><circle cx="354.8" cy="487.9" r="9.3" fill="#05723c"/><circle cx="280.0" cy="480.2" r="9.3" fill="#19954f"/><circle cx="354.0" cy="511.1" r="9.3" fill="#05723c"/><circle cx="211.9" cy="480.2" r="9.3" fill="#3ea959"/><circle cx="235.3" cy="507.0" r="9.3" fill="#2ea255"/><circle cx="211.3" cy="375.8" r="9.3" fill="#4eb15d"/><circle cx="246.2" cy="542.0" r="9.3" fill="#6cc064"/><circle cx="255.6" cy="467.9" r="9.3" fill="#08773f"/><circle cx="149.2" cy="584.0" r="9.3" fill="#16904c"/><circle cx="283.7" cy="449.3" r="9.3" fill="#6cc064"/><circle cx="143.5" cy="518.8" r="9.3" fill="#0b7c41"/><circle cx="127.8" cy="171.4" r="9.3" fill="#d8ef8b"/><circle cx="311.9" cy="518.8" r="9.3" fill="#1e9a51"/><circle cx="241.7" cy="464.8" r="9.3" fill="#05723c"/><circle cx="295.9" cy="461.3" r="9.3" fill="#16904c"/><circle cx="247.3" cy="495.7" r="9.3" fill="#1e9a51"/><circle cx="355.4" cy="534.3" r="9.3" fill="#05723c"/><circle cx="183.5" cy="430.3" r="9.3" fill="#2ea255"/><circle cx="327.9" cy="565.1" r="9.3" fill="#3ea959"/><circle cx="157.1" cy="294.9" r="9.3" fill="#08773f"/><circle cx="240.1" cy="557.4" r="9.3" fill="#3ea959"/><circle cx="147.1" cy="414.7" r="9.3" fill="#3ea959"/><circle cx="272.9" cy="498.8" r="9.3" fill="#2ea255"/><circle cx="254.5" cy="387.6" r="9.3" fill="#08773f"/><circle cx="138.8" cy="379.9" r="9.3" fill="#4eb15d"/><circle cx="134.4" cy="291.6" r="9.3" fill="#0b7c41"/><circle cx="174.6" cy="325.8" r="9.3" fill="#108647"/><circle cx="221.0" cy="487.9" r="9.3" fill="#4eb15d"/><circle cx="198.9" cy="225.5" r="9.3" fill="#4eb15d"/><circle cx="135.1" cy="542.0" r="9.3" fill="#6cc064"/><circle cx="294.0" cy="410.7" r="9.3" fill="#4eb15d"/><circle cx="143.7" cy="283.9" r="9.3" fill="#0b7c41"/><circle cx="122.3" cy="603.7" r="9.3" fill="#108647"/><circle cx="122.4" cy="596.0" r="9.3" fill="#108647"/><circle cx="122.0" cy="588.3" r="9.3" fill="#95d168"/><circle cx="122.6" cy="580.6" r="9.3" fill="#08773f"/><circle cx="122.0" cy="572.9" r="9.3" fill="#7ac665"/><circle cx="122.7" cy="565.1" r="9.3" fill="#08773f"/><circle cx="122.2" cy="557.4" r="9.3" fill="#f0f9ab"/><circle cx="122.3" cy="549.7" r="9.3" fill="#7ac665"/><circle cx="122.1" cy="542.0" r="9.3" fill="#4eb15d"/><circle cx="122.0" cy="534.3" r="9.3" fill="#95d168"/><circle cx="122.4" cy="526.5" r="9.3" fill="#2ea255"/><circle cx="122.3" cy="518.8" r="9.3" fill="#addc6f"/><circle cx="122.3" cy="511.1" r="9.3" fill="#f0f9ab"/><circle cx="122.7" cy="503.4" r="9.3" fill="#addc6f"/><circle cx="122.3" cy="495.7" r="9.3" fill="#108647"/><circle cx="122.3" cy="487.9" r="9.3" fill="#19954f"/><circle cx="122.4" cy="480.2" r="9.3" fill="#f0f9ab"/><circle cx="122.1" cy="472.5" r="9.3" fill="#2ea255"/><circle cx="122.6" cy="464.8" r="9.3" fill="#7ac665"/><circle cx="122.0" cy="457.1" r="9.3" fill="#addc6f"/><circle cx="122.1" cy="449.3" r="9.3" fill="#addc6f"/><circle cx="122.0" cy="441.6" r="9.3" fill="#6cc064"/><circle cx="122.2" cy="433.9" r="9.3" fill="#f0f9ab"/><circle cx="122.0" cy="426.2" r="9.3" fill="#c3e57d"/><circle cx="122.1" cy="418.5" r="9.3" fill="#c3e57d"/><circle cx="122.6" cy="410.7" r="9.3" fill="#95d168"/><circle cx="121.9" cy="403.0" r="9.3" fill="#f0f9ab"/><circle cx="122.1" cy="395.3" r="9.3" fill="#19954f"/><circle cx="122.3" cy="387.6" r="9.3" fill="#4eb15d"/><circle cx="122.6" cy="379.9" r="9.3" fill="#2ea255"/><circle cx="122.2" cy="372.1" r="9.3" fill="#7ac665"/><circle cx="121.9" cy="364.4" r="9.3" fill="#95d168"/><circle cx="122.7" cy="356.7" r="9.3" fill="#2ea255"/><circle cx="122.3" cy="349.0" r="9.3" fill="#108647"/><circle cx="121.9" cy="341.3" r="9.3" fill="#c3e57d"/><circle cx="121.9" cy="333.5" r="9.3" fill="#95d168"/><circle cx="122.4" cy="325.8" r="9.3" fill="#19954f"/><circle cx="122.1" cy="318.1" r="9.3" fill="#c3e57d"/><circle cx="122.0" cy="310.4" r="9.3" fill="#f0f9ab"/><circle cx="122.0" cy="302.7" r="9.3" fill="#2ea255"/><circle cx="122.6" cy="294.9" r="9.3" fill="#6cc064"/><circle cx="122.3" cy="287.2" r="9.3" fill="#08773f"/><circle cx="122.5" cy="279.5" r="9.3" fill="#4eb15d"/><circle cx="122.1" cy="271.8" r="9.3" fill="#108647"/><circle cx="122.4" cy="264.1" r="9.3" fill="#f0f9ab"/><circle cx="122.6" cy="256.3" r="9.3" fill="#08773f"/><circle cx="122.5" cy="248.6" r="9.3" fill="#addc6f"/><circle cx="122.1" cy="240.9" r="9.3" fill="#08773f"/><circle cx="121.9" cy="233.2" r="9.3" fill="#95d168"/><circle cx="122.1" cy="225.5" r="9.3" fill="#108647"/><circle cx="122.3" cy="217.7" r="9.3" fill="#f0f9ab"/><circle cx="122.6" cy="210.0" r="9.3" fill="#95d168"/><circle cx="122.2" cy="202.3" r="9.3" fill="#f0f9ab"/><circle cx="122.1" cy="194.6" r="9.3" fill="#19954f"/><circle cx="122.7" cy="186.9" r="9.3" fill="#4eb15d"/><circle cx="122.2" cy="179.1" r="9.3" fill="#f0f9ab"/><circle cx="122.2" cy="171.4" r="9.3" fill="#f0f9ab"/><circle cx="122.5" cy="163.7" r="9.3" fill="#4eb15d"/><circle cx="122.0" cy="156.0" r="9.3" fill="#c3e57d"/><circle cx="122.2" cy="148.3" r="9.3" fill="#08773f"/><circle cx="122.6" cy="140.5" r="9.3" fill="#f0f9ab"/><circle cx="121.7" cy="518.8" r="9.3" fill="#ceea84"/><circle cx="121.7" cy="449.3" r="9.3" fill="#a2d76a"/><circle cx="191.2" cy="480.2" r="9.3" fill="#95d168"/><circle cx="197.9" cy="359.4" r="9.3" fill="#95d168"/><circle cx="121.5" cy="217.7" r="9.3" fill="#addc6f"/><circle cx="121.5" cy="233.2" r="9.3" fill="#fdbc6d"/><circle cx="121.5" cy="240.9" r="9.3" fill="#7ac665"/><circle cx="280.5" cy="529.5" r="9.3" fill="#addc6f"/><circle cx="364.2" cy="248.6" r="9.3" fill="#07743d"/><circle cx="344.6" cy="271.8" r="9.3" fill="#07743d"/><circle cx="343.8" cy="302.7" r="9.3" fill="#4eb15d"/><circle cx="347.1" cy="318.1" r="9.3" fill="#4eb15d"/><circle cx="458.1" cy="271.8" r="9.3" fill="#4eb15d"/><circle cx="482.3" cy="271.8" r="9.3" fill="#4eb15d"/><circle cx="486.2" cy="279.5" r="9.3" fill="#4eb15d"/><circle cx="423.4" cy="294.9" r="9.3" fill="#07743d"/><circle cx="469.3" cy="318.1" r="9.3" fill="#4eb15d"/><circle cx="400.0" cy="341.3" r="9.3" fill="#7ac665"/><circle cx="403.8" cy="341.3" r="9.3" fill="#4eb15d"/><circle cx="419.6" cy="333.5" r="9.3" fill="#07743d"/><circle cx="434.4" cy="333.5" r="9.3" fill="#17924d"/><circle cx="478.0" cy="349.0" r="9.3" fill="#07743d"/><circle cx="494.3" cy="341.3" r="9.3" fill="#4eb15d"/><circle cx="498.2" cy="387.6" r="9.3" fill="#07743d"/><circle cx="364.2" cy="387.6" r="9.3" fill="#07743d"/><circle cx="357.9" cy="395.3" r="9.3" fill="#4eb15d"/><circle cx="378.3" cy="410.7" r="9.3" fill="#4eb15d"/><circle cx="385.9" cy="410.7" r="9.3" fill="#07743d"/><circle cx="406.8" cy="418.5" r="9.3" fill="#4eb15d"/><circle cx="429.3" cy="418.5" r="9.3" fill="#07743d"/><circle cx="528.9" cy="410.7" r="9.3" fill="#2ea255"/><circle cx="542.5" cy="395.3" r="9.3" fill="#07743d"/><circle cx="519.8" cy="426.2" r="9.3" fill="#07743d"/><circle cx="343.8" cy="418.5" r="9.3" fill="#4eb15d"/><circle cx="401.2" cy="426.2" r="9.3" fill="#07743d"/><circle cx="558.4" cy="364.4" r="9.3" fill="#17924d"/><circle cx="656.1" cy="418.5" r="9.3" fill="#17924d"/><circle cx="354.0" cy="441.6" r="9.3" fill="#07743d"/><circle cx="363.0" cy="433.9" r="9.3" fill="#17924d"/><circle cx="378.3" cy="428.8" r="9.3" fill="#07743d"/><circle cx="389.7" cy="433.9" r="9.3" fill="#17924d"/><circle cx="398.7" cy="441.6" r="9.3" fill="#07743d"/><circle cx="384.6" cy="441.6" r="9.3" fill="#07743d"/><circle cx="346.4" cy="428.8" r="9.3" fill="#17924d"/><circle cx="445.9" cy="433.9" r="9.3" fill="#4eb15d"/><circle cx="452.2" cy="433.9" r="9.3" fill="#17924d"/><circle cx="447.1" cy="441.6" r="9.3" fill="#17924d"/><circle cx="380.8" cy="457.1" r="9.3" fill="#addc6f"/><circle cx="421.6" cy="457.1" r="9.3" fill="#17924d"/><circle cx="446.6" cy="457.1" r="9.3" fill="#07743d"/><circle cx="365.5" cy="472.5" r="9.3" fill="#07743d"/><circle cx="370.6" cy="480.2" r="9.3" fill="#4eb15d"/><circle cx="343.8" cy="464.8" r="9.3" fill="#07743d"/><circle cx="342.6" cy="472.5" r="9.3" fill="#07743d"/><circle cx="498.2" cy="472.5" r="9.3" fill="#17924d"/><circle cx="533.9" cy="472.5" r="9.3" fill="#17924d"/><circle cx="433.1" cy="480.2" r="9.3" fill="#4eb15d"/><circle cx="410.9" cy="487.9" r="9.3" fill="#4eb15d"/><circle cx="396.6" cy="495.7" r="9.3" fill="#07743d"/><circle cx="424.2" cy="495.7" r="9.3" fill="#17924d"/><circle cx="479.8" cy="495.7" r="9.3" fill="#17924d"/><circle cx="355.3" cy="487.9" r="9.3" fill="#07743d"/><circle cx="343.8" cy="495.7" r="9.3" fill="#17924d"/><circle cx="377.8" cy="503.4" r="9.3" fill="#4eb15d"/><circle cx="370.6" cy="518.8" r="9.3" fill="#d3ec87"/><circle cx="360.4" cy="511.1" r="9.3" fill="#07743d"/><circle cx="435.7" cy="511.1" r="9.3" fill="#07743d"/><circle cx="445.9" cy="511.1" r="9.3" fill="#07743d"/><circle cx="517.8" cy="503.4" r="9.3" fill="#07743d"/><circle cx="504.5" cy="511.1" r="9.3" fill="#4eb15d"/><circle cx="528.8" cy="511.1" r="9.3" fill="#17924d"/><circle cx="527.5" cy="518.8" r="9.3" fill="#17924d"/><circle cx="496.9" cy="526.5" r="9.3" fill="#07743d"/><circle cx="452.2" cy="526.5" r="9.3" fill="#07743d"/><circle cx="472.7" cy="534.3" r="9.3" fill="#07743d"/><circle cx="482.9" cy="542.0" r="9.3" fill="#17924d"/><circle cx="538.6" cy="534.3" r="9.3" fill="#17924d"/><circle cx="436.9" cy="542.0" r="9.3" fill="#07743d"/><circle cx="406.3" cy="526.5" r="9.3" fill="#17924d"/><circle cx="389.7" cy="526.5" r="9.3" fill="#17924d"/><circle cx="380.8" cy="534.3" r="9.3" fill="#07743d"/><circle cx="412.2" cy="542.0" r="9.3" fill="#addc6f"/><circle cx="397.4" cy="542.0" r="9.3" fill="#07743d"/><circle cx="365.5" cy="526.5" r="9.3" fill="#17924d"/><circle cx="350.2" cy="526.5" r="9.3" fill="#17924d"/><circle cx="345.1" cy="542.0" r="9.3" fill="#07743d"/><circle cx="370.6" cy="549.7" r="9.3" fill="#17924d"/><circle cx="470.1" cy="549.7" r="9.3" fill="#17924d"/><circle cx="475.2" cy="557.4" r="9.3" fill="#17924d"/><circle cx="490.5" cy="565.1" r="9.3" fill="#07743d"/><circle cx="495.6" cy="572.9" r="9.3" fill="#07743d"/><circle cx="424.2" cy="557.4" r="9.3" fill="#17924d"/><circle cx="401.2" cy="565.1" r="9.3" fill="#17924d"/><circle cx="408.9" cy="557.4" r="9.3" fill="#07743d"/><circle cx="363.0" cy="565.1" r="9.3" fill="#07743d"/><circle cx="350.2" cy="565.1" r="9.3" fill="#17924d"/><circle cx="444.6" cy="565.1" r="9.3" fill="#07743d"/><circle cx="453.5" cy="572.9" r="9.3" fill="#07743d"/><circle cx="435.7" cy="572.9" r="9.3" fill="#07743d"/><circle cx="388.5" cy="580.6" r="9.3" fill="#17924d"/><circle cx="391.0" cy="572.9" r="9.3" fill="#07743d"/><circle cx="435.7" cy="580.6" r="9.3" fill="#17924d"/><circle cx="540.2" cy="565.1" r="9.3" fill="#17924d"/><circle cx="539.2" cy="588.3" r="9.3" fill="#17924d"/><circle cx="465.0" cy="588.3" r="9.3" fill="#07743d"/><circle cx="421.6" cy="588.3" r="9.3" fill="#07743d"/><circle cx="393.6" cy="596.0" r="9.3" fill="#07743d"/><circle cx="406.3" cy="596.0" r="9.3" fill="#17924d"/><circle cx="412.7" cy="596.0" r="9.3" fill="#17924d"/><circle cx="434.4" cy="596.0" r="9.3" fill="#17924d"/><circle cx="449.7" cy="596.0" r="9.3" fill="#17924d"/><circle cx="505.8" cy="603.7" r="9.3" fill="#07743d"/><circle cx="503.3" cy="619.2" r="9.3" fill="#17924d"/><circle cx="393.6" cy="619.2" r="9.3" fill="#4eb15d"/><circle cx="418.5" cy="619.2" r="9.3" fill="#16904c"/><circle cx="257.3" cy="240.9" r="9.3" fill="#7ac665"/><circle cx="262.4" cy="256.3" r="9.3" fill="#7ac665"/><circle cx="248.2" cy="256.3" r="9.3" fill="#4eb15d"/><circle cx="242.0" cy="267.3" r="9.3" fill="#4eb15d"/><circle cx="298.8" cy="279.5" r="9.3" fill="#4eb15d"/><circle cx="258.4" cy="279.5" r="9.3" fill="#17924d"/><circle cx="244.1" cy="287.2" r="9.3" fill="#07743d"/><circle cx="255.3" cy="294.9" r="9.3" fill="#17924d"/><circle cx="269.6" cy="294.9" r="9.3" fill="#07743d"/><circle cx="284.9" cy="294.9" r="9.3" fill="#4eb15d"/><circle cx="298.2" cy="294.9" r="9.3" fill="#17924d"/><circle cx="314.5" cy="302.7" r="9.3" fill="#07743d"/><circle cx="321.6" cy="302.7" r="9.3" fill="#17924d"/><circle cx="330.8" cy="302.7" r="9.3" fill="#17924d"/><circle cx="327.8" cy="325.8" r="9.3" fill="#07743d"/><circle cx="303.3" cy="318.1" r="9.3" fill="#17924d"/><circle cx="288.0" cy="310.4" r="9.3" fill="#17924d"/><circle cx="266.5" cy="310.4" r="9.3" fill="#07743d"/><circle cx="256.3" cy="318.1" r="9.3" fill="#07743d"/><circle cx="282.9" cy="325.8" r="9.3" fill="#7ac665"/><circle cx="307.3" cy="333.5" r="9.3" fill="#17924d"/><circle cx="262.4" cy="333.5" r="9.3" fill="#07743d"/><circle cx="248.2" cy="341.3" r="9.3" fill="#16904c"/><circle cx="289.0" cy="341.3" r="9.3" fill="#7ac665"/><circle cx="293.1" cy="349.0" r="9.3" fill="#7ac665"/><circle cx="266.5" cy="349.0" r="9.3" fill="#17924d"/><circle cx="331.8" cy="356.7" r="9.3" fill="#7ac665"/><circle cx="326.6" cy="364.4" r="9.3" fill="#08773f"/><circle cx="240.0" cy="325.8" r="9.3" fill="#4eb15d"/><circle cx="240.0" cy="287.2" r="9.3" fill="#07743d"/><circle cx="146.0" cy="153.0" r="9.3" fill="#b71126"/><circle cx="121.5" cy="140.5" r="9.3" fill="#fedc87"/><circle cx="123.0" cy="132.8" r="9.3" fill="#07743d"/><circle cx="130.4" cy="132.8" r="9.3" fill="#c3e57d"/><circle cx="135.2" cy="148.3" r="9.3" fill="#6cc064"/><circle cx="148.5" cy="148.3" r="9.3" fill="#e0f295"/><circle cx="146.4" cy="148.3" r="9.3" fill="#d8ef8b"/><circle cx="121.5" cy="156.0" r="9.3" fill="#feeea2"/><circle cx="131.1" cy="156.0" r="9.3" fill="#7ac665"/><circle cx="133.2" cy="163.7" r="9.3" fill="#addc6f"/><circle cx="144.9" cy="160.8" r="9.3" fill="#87cb67"/><circle cx="160.7" cy="163.7" r="9.3" fill="#b8e176"/><circle cx="121.5" cy="171.4" r="9.3" fill="#addc6f"/><circle cx="143.9" cy="171.4" r="9.3" fill="#65bd63"/><circle cx="131.1" cy="171.4" r="9.3" fill="#fcfebb"/><circle cx="146.9" cy="186.9" r="9.3" fill="#4eb15d"/><circle cx="154.1" cy="186.9" r="9.3" fill="#65bd63"/><circle cx="121.5" cy="190.4" r="9.3" fill="#08773f"/><circle cx="131.6" cy="186.9" r="9.3" fill="#fdc776"/><circle cx="173.5" cy="194.6" r="9.3" fill="#7ac665"/><circle cx="163.3" cy="190.4" r="9.3" fill="#c3e57d"/><circle cx="121.5" cy="202.3" r="9.3" fill="#19954f"/><circle cx="141.9" cy="202.3" r="9.3" fill="#0e8144"/><circle cx="155.2" cy="202.3" r="9.3" fill="#4eb15d"/><circle cx="129.7" cy="202.3" r="9.3" fill="#7ac665"/><circle cx="152.1" cy="207.3" r="9.3" fill="#0b7c41"/><circle cx="141.9" cy="214.5" r="9.3" fill="#1e9a51"/><circle cx="158.3" cy="217.7" r="9.3" fill="#4eb15d"/><circle cx="171.5" cy="210.0" r="9.3" fill="#a2d76a"/><circle cx="127.7" cy="210.0" r="9.3" fill="#7ac665"/><circle cx="135.8" cy="225.5" r="9.3" fill="#08773f"/><circle cx="121.5" cy="233.2" r="9.3" fill="#addc6f"/><circle cx="125.6" cy="233.2" r="9.3" fill="#08773f"/><circle cx="137.9" cy="233.2" r="9.3" fill="#4eb15d"/><circle cx="165.4" cy="233.2" r="9.3" fill="#08773f"/><circle cx="148.1" cy="240.9" r="9.3" fill="#08773f"/><circle cx="171.5" cy="238.0" r="9.3" fill="#4eb15d"/><circle cx="121.5" cy="248.6" r="9.3" fill="#08773f"/><circle cx="156.2" cy="248.6" r="9.3" fill="#4eb15d"/><circle cx="129.7" cy="248.6" r="9.3" fill="#4eb15d"/><circle cx="152.1" cy="256.3" r="9.3" fill="#08773f"/><circle cx="161.3" cy="256.3" r="9.3" fill="#4eb15d"/><circle cx="121.5" cy="260.4" r="9.3" fill="#08773f"/><circle cx="124.6" cy="264.1" r="9.3" fill="#95d168"/><circle cx="143.0" cy="264.1" r="9.3" fill="#4eb15d"/><circle cx="171.5" cy="264.1" r="9.3" fill="#08773f"/><circle cx="156.4" cy="186.9" r="9.3" fill="#7ac665"/><circle cx="174.9" cy="194.6" r="9.3" fill="#95d168"/><circle cx="183.8" cy="194.6" r="9.3" fill="#addc6f"/><circle cx="157.7" cy="202.3" r="9.3" fill="#4eb15d"/><circle cx="174.2" cy="210.0" r="9.3" fill="#95d168"/><circle cx="185.7" cy="210.0" r="9.3" fill="#4eb15d"/><circle cx="158.9" cy="217.7" r="9.3" fill="#3ea959"/><circle cx="166.6" cy="233.2" r="9.3" fill="#08773f"/><circle cx="203.6" cy="225.5" r="9.3" fill="#2ea255"/><circle cx="193.4" cy="225.5" r="9.3" fill="#4eb15d"/><circle cx="215.0" cy="225.5" r="9.3" fill="#6cc064"/><circle cx="190.8" cy="233.2" r="9.3" fill="#2ea255"/><circle cx="202.3" cy="233.2" r="9.3" fill="#1e9a51"/><circle cx="214.4" cy="233.2" r="9.3" fill="#2ea255"/><circle cx="179.3" cy="225.5" r="9.3" fill="#7ac665"/><circle cx="176.8" cy="236.3" r="9.3" fill="#2ea255"/><circle cx="221.4" cy="240.9" r="9.3" fill="#3ea959"/><circle cx="173.0" cy="248.6" r="9.3" fill="#08773f"/><circle cx="159.6" cy="248.6" r="9.3" fill="#4eb15d"/><circle cx="203.6" cy="248.6" r="9.3" fill="#4eb15d"/><circle cx="210.6" cy="256.3" r="9.3" fill="#2ea255"/><circle cx="184.4" cy="256.3" r="9.3" fill="#addc6f"/><circle cx="161.5" cy="259.3" r="9.3" fill="#16904c"/><circle cx="229.1" cy="252.9" r="9.3" fill="#4eb15d"/><circle cx="234.2" cy="264.1" r="9.3" fill="#2ea255"/><circle cx="226.5" cy="267.0" r="9.3" fill="#addc6f"/><circle cx="194.0" cy="264.1" r="9.3" fill="#4eb15d"/><circle cx="170.4" cy="266.9" r="9.3" fill="#08773f"/><circle cx="425.0" cy="619.2" r="9.3" fill="#16904c"/><circle cx="661.0" cy="433.9" r="9.3" fill="#08773f"/><circle cx="612.7" cy="503.4" r="9.3" fill="#19954f"/><circle cx="588.8" cy="526.5" r="9.3" fill="#16904c"/><circle cx="608.2" cy="534.3" r="9.3" fill="#269e53"/><circle cx="579.0" cy="549.7" r="9.3" fill="#05723c"/><circle cx="597.3" cy="557.4" r="9.3" fill="#07743d"/><circle cx="605.5" cy="557.4" r="9.3" fill="#07743d"/><circle cx="645.3" cy="557.4" r="9.3" fill="#17924d"/><circle cx="665.7" cy="549.7" r="9.3" fill="#17924d"/><circle cx="677.0" cy="557.4" r="9.3" fill="#138b49"/><circle cx="549.4" cy="572.9" r="9.3" fill="#108647"/><circle cx="568.8" cy="588.3" r="9.3" fill="#07743d"/><circle cx="603.5" cy="588.3" r="9.3" fill="#08773f"/><circle cx="593.3" cy="588.3" r="9.3" fill="#19954f"/><circle cx="555.1" cy="611.5" r="9.3" fill="#2ea255"/><circle cx="650.4" cy="596.0" r="9.3" fill="#07743d"/><circle cx="658.6" cy="603.7" r="9.3" fill="#2ea255"/><circle cx="631.6" cy="619.2" r="9.3" fill="#108647"/><circle cx="756.3" cy="441.6" r="9.3" fill="#1e9a51"/><circle cx="788.5" cy="549.7" r="9.3" fill="#036d3a"/><circle cx="708.5" cy="588.3" r="9.3" fill="#08773f"/><circle cx="356.3" cy="626.9" r="9.3" fill="#7ac665"/><circle cx="333.2" cy="583.2" r="9.3" fill="#7ac665"/><circle cx="384.0" cy="583.2" r="9.3" fill="#08773f"/><circle cx="392.6" cy="583.2" r="9.3" fill="#3ea959"/><circle cx="401.2" cy="588.3" r="9.3" fill="#08773f"/><circle cx="474.0" cy="603.7" r="9.3" fill="#08773f"/><circle cx="472.0" cy="611.5" r="9.3" fill="#6cc064"/><circle cx="123.7" cy="565.1" r="9.3" fill="#08773f"/><circle cx="127.1" cy="565.1" r="9.3" fill="#7ac665"/><circle cx="135.1" cy="565.1" r="9.3" fill="#0b7c41"/><circle cx="152.4" cy="565.1" r="9.3" fill="#65bd63"/><circle cx="168.5" cy="565.1" r="9.3" fill="#0e8144"/><circle cx="185.2" cy="565.1" r="9.3" fill="#6cc064"/><circle cx="213.9" cy="565.1" r="9.3" fill="#16904c"/><circle cx="123.0" cy="572.9" r="9.3" fill="#fffebd"/><circle cx="135.7" cy="580.6" r="9.3" fill="#036d3a"/><circle cx="149.8" cy="572.9" r="9.3" fill="#46ad5b"/><circle cx="165.8" cy="580.6" r="9.3" fill="#a2d76a"/><circle cx="181.8" cy="580.6" r="9.3" fill="#b3df72"/><circle cx="203.9" cy="580.6" r="9.3" fill="#036d3a"/><circle cx="217.9" cy="580.6" r="9.3" fill="#87cb67"/><circle cx="125.7" cy="588.3" r="9.3" fill="#1e9a51"/><circle cx="147.8" cy="596.0" r="9.3" fill="#73c364"/><circle cx="164.5" cy="596.0" r="9.3" fill="#9bd469"/><circle cx="185.8" cy="588.3" r="9.3" fill="#3ea959"/><circle cx="196.5" cy="588.3" r="9.3" fill="#08773f"/><circle cx="215.2" cy="598.7" r="9.3" fill="#05723c"/><circle cx="128.4" cy="603.7" r="9.3" fill="#6cc064"/><circle cx="126.4" cy="614.8" r="9.3" fill="#16904c"/><circle cx="137.8" cy="611.5" r="9.3" fill="#56b55f"/><circle cx="147.1" cy="619.2" r="9.3" fill="#a8da6b"/><circle cx="156.5" cy="606.8" r="9.3" fill="#3ea959"/><circle cx="165.8" cy="603.7" r="9.3" fill="#9bd469"/><circle cx="173.2" cy="611.5" r="9.3" fill="#269e53"/><circle cx="181.2" cy="619.2" r="9.3" fill="#19954f"/><circle cx="163.1" cy="626.9" r="9.3" fill="#6cc064"/><circle cx="205.2" cy="619.2" r="9.3" fill="#a8da6b"/><circle cx="220.6" cy="611.5" r="9.3" fill="#1e9a51"/><circle cx="187.9" cy="642.3" r="9.3" fill="#a2d76a"/><circle cx="228.4" cy="565.1" r="9.3" fill="#16904c"/><circle cx="245.7" cy="565.1" r="9.3" fill="#1e9a51"/><circle cx="259.1" cy="572.9" r="9.3" fill="#19954f"/><circle cx="275.1" cy="565.1" r="9.3" fill="#08773f"/><circle cx="287.8" cy="565.1" r="9.3" fill="#56b55f"/><circle cx="307.2" cy="561.3" r="9.3" fill="#08773f"/><circle cx="307.2" cy="568.0" r="9.3" fill="#19954f"/><circle cx="329.2" cy="572.9" r="9.3" fill="#0b7c41"/><circle cx="343.3" cy="565.1" r="9.3" fill="#17924d"/><circle cx="217.7" cy="580.6" r="9.3" fill="#73c364"/><circle cx="233.7" cy="580.6" r="9.3" fill="#3ea959"/><circle cx="247.1" cy="585.4" r="9.3" fill="#36a557"/><circle cx="255.1" cy="577.4" r="9.3" fill="#19954f"/><circle cx="275.1" cy="580.6" r="9.3" fill="#08773f"/><circle cx="291.8" cy="580.6" r="9.3" fill="#16904c"/><circle cx="308.5" cy="580.6" r="9.3" fill="#0b7c41"/><circle cx="329.9" cy="580.6" r="9.3" fill="#4eb15d"/><circle cx="311.2" cy="592.1" r="9.3" fill="#08773f"/><circle cx="303.2" cy="588.3" r="9.3" fill="#56b55f"/><circle cx="217.7" cy="596.0" r="9.3" fill="#08773f"/><circle cx="223.0" cy="603.7" r="9.3" fill="#05723c"/><circle cx="223.0" cy="611.5" r="9.3" fill="#269e53"/><circle cx="229.7" cy="588.3" r="9.3" fill="#3ea959"/><circle cx="245.7" cy="591.4" r="9.3" fill="#2ea255"/><circle cx="257.8" cy="592.1" r="9.3" fill="#6cc064"/><circle cx="266.4" cy="596.0" r="9.3" fill="#95d168"/><circle cx="275.8" cy="596.0" r="9.3" fill="#73c364"/><circle cx="255.1" cy="619.2" r="9.3" fill="#4eb15d"/><circle cx="246.8" cy="611.5" r="9.3" fill="#19954f"/><circle cx="263.8" cy="626.9" r="9.3" fill="#95d168"/><circle cx="286.5" cy="611.5" r="9.3" fill="#036d3a"/><circle cx="301.8" cy="611.5" r="9.3" fill="#46ad5b"/><circle cx="315.2" cy="611.5" r="9.3" fill="#95d168"/><circle cx="238.4" cy="642.3" r="9.3" fill="#7ac665"/><circle cx="301.2" cy="634.6" r="9.3" fill="#b8e176"/><circle cx="122.0" cy="271.8" r="9.3" fill="#08773f"/><circle cx="122.0" cy="302.7" r="9.3" fill="#4eb15d"/><circle cx="122.0" cy="330.8" r="9.3" fill="#19954f"/><circle cx="122.0" cy="341.3" r="9.3" fill="#6cc064"/><circle cx="122.0" cy="264.1" r="9.3" fill="#addc6f"/><circle cx="124.4" cy="271.8" r="9.3" fill="#65bd63"/><circle cx="143.1" cy="264.1" r="9.3" fill="#4eb15d"/><circle cx="184.5" cy="261.3" r="9.3" fill="#a8da6b"/><circle cx="169.8" cy="271.8" r="9.3" fill="#16904c"/><circle cx="193.9" cy="268.0" r="9.3" fill="#46ad5b"/><circle cx="212.6" cy="271.8" r="9.3" fill="#16904c"/><circle cx="133.1" cy="279.5" r="9.3" fill="#4eb15d"/><circle cx="156.5" cy="279.5" r="9.3" fill="#19954f"/><circle cx="143.1" cy="283.4" r="9.3" fill="#a2d76a"/><circle cx="133.7" cy="290.7" r="9.3" fill="#08773f"/><circle cx="144.4" cy="292.1" r="9.3" fill="#05723c"/><circle cx="123.1" cy="287.2" r="9.3" fill="#6cc064"/><circle cx="175.2" cy="287.2" r="9.3" fill="#19954f"/><circle cx="192.5" cy="287.2" r="9.3" fill="#7ac665"/><circle cx="208.6" cy="294.9" r="9.3" fill="#16904c"/><circle cx="221.9" cy="294.9" r="9.3" fill="#6cc064"/><circle cx="125.7" cy="302.7" r="9.3" fill="#19954f"/><circle cx="142.4" cy="302.7" r="9.3" fill="#6cc064"/><circle cx="169.8" cy="302.7" r="9.3" fill="#4eb15d"/><circle cx="175.8" cy="310.4" r="9.3" fill="#73c364"/><circle cx="212.6" cy="306.8" r="9.3" fill="#08773f"/><circle cx="197.9" cy="310.4" r="9.3" fill="#1e9a51"/><circle cx="209.9" cy="318.1" r="9.3" fill="#1e9a51"/><circle cx="121.5" cy="318.1" r="9.3" fill="#a8da6b"/><circle cx="131.1" cy="318.1" r="9.3" fill="#1e9a51"/><circle cx="139.1" cy="318.1" r="9.3" fill="#3ea959"/><circle cx="152.4" cy="318.1" r="9.3" fill="#0b7c41"/><circle cx="172.5" cy="318.1" r="9.3" fill="#1e9a51"/><circle cx="188.5" cy="325.8" r="9.3" fill="#95d168"/><circle cx="192.5" cy="333.5" r="9.3" fill="#16904c"/><circle cx="207.2" cy="341.3" r="9.3" fill="#036d3a"/><circle cx="133.7" cy="325.8" r="9.3" fill="#1e9a51"/><circle cx="165.8" cy="329.5" r="9.3" fill="#1e9a51"/><circle cx="151.8" cy="333.5" r="9.3" fill="#65bd63"/><circle cx="175.2" cy="341.3" r="9.3" fill="#19954f"/><circle cx="121.5" cy="333.5" r="9.3" fill="#6cc064"/><circle cx="123.1" cy="341.3" r="9.3" fill="#3ea959"/><circle cx="133.7" cy="345.5" r="9.3" fill="#08773f"/><circle cx="164.5" cy="341.3" r="9.3" fill="#6cc064"/><circle cx="141.8" cy="353.5" r="9.3" fill="#65bd63"/><circle cx="157.8" cy="352.2" r="9.3" fill="#1e9a51"/><circle cx="184.5" cy="353.5" r="9.3" fill="#65bd63"/><circle cx="221.9" cy="349.0" r="9.3" fill="#6cc064"/><circle cx="121.5" cy="353.5" r="9.3" fill="#19954f"/><circle cx="232.4" cy="333.5" r="9.3" fill="#19954f"/><circle cx="223.0" cy="318.1" r="9.3" fill="#65bd63"/><circle cx="235.0" cy="318.1" r="9.3" fill="#56b55f"/><circle cx="217.7" cy="318.1" r="9.3" fill="#1e9a51"/><circle cx="223.0" cy="271.8" r="9.3" fill="#6cc064"/><circle cx="141.8" cy="356.7" r="9.3" fill="#46ad5b"/><circle cx="163.1" cy="364.4" r="9.3" fill="#16904c"/><circle cx="173.8" cy="372.1" r="9.3" fill="#138b49"/><circle cx="188.5" cy="356.7" r="9.3" fill="#6cc064"/><circle cx="212.6" cy="356.7" r="9.3" fill="#0b7c41"/><circle cx="125.7" cy="368.7" r="9.3" fill="#16904c"/><circle cx="127.1" cy="379.9" r="9.3" fill="#036d3a"/><circle cx="145.8" cy="372.1" r="9.3" fill="#65bd63"/><circle cx="188.5" cy="372.1" r="9.3" fill="#1e9a51"/><circle cx="203.2" cy="379.9" r="9.3" fill="#1e9a51"/><circle cx="220.6" cy="379.9" r="9.3" fill="#19954f"/><circle cx="152.4" cy="387.6" r="9.3" fill="#19954f"/><circle cx="127.7" cy="395.3" r="9.3" fill="#a2d76a"/><circle cx="141.8" cy="395.3" r="9.3" fill="#08773f"/><circle cx="173.8" cy="387.6" r="9.3" fill="#19954f"/><circle cx="188.5" cy="403.0" r="9.3" fill="#19954f"/><circle cx="195.2" cy="403.0" r="9.3" fill="#19954f"/><circle cx="211.2" cy="395.3" r="9.3" fill="#19954f"/><circle cx="217.9" cy="410.7" r="9.3" fill="#08773f"/><circle cx="143.1" cy="410.7" r="9.3" fill="#16904c"/><circle cx="127.1" cy="410.7" r="9.3" fill="#08773f"/><circle cx="167.1" cy="418.5" r="9.3" fill="#138b49"/><circle cx="153.8" cy="418.5" r="9.3" fill="#08773f"/><circle cx="180.5" cy="426.2" r="9.3" fill="#16904c"/><circle cx="196.5" cy="418.5" r="9.3" fill="#08773f"/><circle cx="212.6" cy="426.2" r="9.3" fill="#1e9a51"/><circle cx="127.1" cy="426.2" r="9.3" fill="#6cc064"/><circle cx="133.7" cy="433.9" r="9.3" fill="#05723c"/><circle cx="147.1" cy="441.6" r="9.3" fill="#19954f"/><circle cx="171.2" cy="436.8" r="9.3" fill="#08773f"/><circle cx="185.8" cy="446.2" r="9.3" fill="#16904c"/><circle cx="201.9" cy="446.2" r="9.3" fill="#46ad5b"/><circle cx="215.2" cy="436.8" r="9.3" fill="#1e9a51"/><circle cx="122.0" cy="441.6" r="9.3" fill="#1e9a51"/><circle cx="122.0" cy="387.6" r="9.3" fill="#3ea959"/><circle cx="317.2" cy="372.1" r="9.3" fill="#108647"/><circle cx="248.4" cy="364.4" r="9.3" fill="#16904c"/><circle cx="235.0" cy="379.9" r="9.3" fill="#07743d"/><circle cx="275.1" cy="379.9" r="9.3" fill="#6cc064"/><circle cx="297.2" cy="379.9" r="9.3" fill="#108647"/><circle cx="315.2" cy="387.6" r="9.3" fill="#a2d76a"/><circle cx="247.1" cy="387.6" r="9.3" fill="#138b49"/><circle cx="260.4" cy="395.3" r="9.3" fill="#08773f"/><circle cx="284.5" cy="395.3" r="9.3" fill="#19954f"/><circle cx="276.5" cy="395.3" r="9.3" fill="#4eb15d"/><circle cx="221.7" cy="395.3" r="9.3" fill="#16904c"/><circle cx="255.1" cy="403.0" r="9.3" fill="#19954f"/><circle cx="273.8" cy="410.7" r="9.3" fill="#07743d"/><circle cx="223.0" cy="410.7" r="9.3" fill="#04703b"/><circle cx="315.2" cy="403.0" r="9.3" fill="#16904c"/><circle cx="295.2" cy="410.7" r="9.3" fill="#138b49"/><circle cx="301.8" cy="410.7" r="9.3" fill="#138b49"/><circle cx="321.9" cy="410.7" r="9.3" fill="#46ad5b"/><circle cx="339.2" cy="418.5" r="9.3" fill="#3ea959"/><circle cx="289.8" cy="426.2" r="9.3" fill="#138b49"/><circle cx="233.7" cy="426.2" r="9.3" fill="#07743d"/><circle cx="239.7" cy="433.9" r="9.3" fill="#05723c"/><circle cx="268.4" cy="433.9" r="9.3" fill="#16904c"/><circle cx="311.2" cy="433.9" r="9.3" fill="#108647"/><circle cx="321.9" cy="426.2" r="9.3" fill="#08773f"/><circle cx="325.9" cy="441.6" r="9.3" fill="#138b49"/><circle cx="337.9" cy="441.6" r="9.3" fill="#3ea959"/><circle cx="289.8" cy="441.6" r="9.3" fill="#19954f"/><circle cx="219.0" cy="430.2" r="9.3" fill="#19954f"/><circle cx="255.1" cy="444.9" r="9.3" fill="#16904c"/><circle cx="131.1" cy="449.3" r="9.3" fill="#16904c"/><circle cx="159.1" cy="449.3" r="9.3" fill="#4eb15d"/><circle cx="201.9" cy="449.3" r="9.3" fill="#3ea959"/><circle cx="187.2" cy="457.1" r="9.3" fill="#1e9a51"/><circle cx="216.6" cy="457.1" r="9.3" fill="#4eb15d"/><circle cx="132.4" cy="464.8" r="9.3" fill="#08773f"/><circle cx="145.8" cy="472.5" r="9.3" fill="#19954f"/><circle cx="164.5" cy="464.8" r="9.3" fill="#16904c"/><circle cx="177.8" cy="464.8" r="9.3" fill="#19954f"/><circle cx="196.5" cy="460.0" r="9.3" fill="#0b7c41"/><circle cx="152.4" cy="480.2" r="9.3" fill="#b8e176"/><circle cx="199.9" cy="480.2" r="9.3" fill="#3ea959"/><circle cx="219.9" cy="487.9" r="9.3" fill="#108647"/><circle cx="123.1" cy="487.9" r="9.3" fill="#07743d"/><circle cx="135.7" cy="495.7" r="9.3" fill="#1e9a51"/><circle cx="179.2" cy="495.7" r="9.3" fill="#16904c"/><circle cx="211.2" cy="495.7" r="9.3" fill="#19954f"/><circle cx="152.4" cy="503.4" r="9.3" fill="#08773f"/><circle cx="122.0" cy="503.4" r="9.3" fill="#08773f"/><circle cx="140.4" cy="511.1" r="9.3" fill="#addc6f"/><circle cx="175.2" cy="511.1" r="9.3" fill="#1e9a51"/><circle cx="153.8" cy="518.8" r="9.3" fill="#16904c"/><circle cx="123.7" cy="518.8" r="9.3" fill="#4eb15d"/><circle cx="193.9" cy="526.5" r="9.3" fill="#4eb15d"/><circle cx="201.9" cy="534.3" r="9.3" fill="#08773f"/><circle cx="156.5" cy="534.3" r="9.3" fill="#1e9a51"/><circle cx="180.5" cy="534.3" r="9.3" fill="#0b7c41"/><circle cx="219.0" cy="457.1" r="9.3" fill="#3ea959"/><circle cx="231.0" cy="457.1" r="9.3" fill="#36a557"/><circle cx="256.4" cy="449.3" r="9.3" fill="#19954f"/><circle cx="271.1" cy="449.3" r="9.3" fill="#46ad5b"/><circle cx="287.8" cy="449.3" r="9.3" fill="#19954f"/><circle cx="303.2" cy="449.3" r="9.3" fill="#19954f"/><circle cx="335.2" cy="449.3" r="9.3" fill="#3ea959"/><circle cx="339.2" cy="457.1" r="9.3" fill="#07743d"/><circle cx="231.0" cy="472.5" r="9.3" fill="#4eb15d"/><circle cx="245.7" cy="472.5" r="9.3" fill="#08773f"/><circle cx="257.8" cy="464.8" r="9.3" fill="#19954f"/><circle cx="283.1" cy="472.5" r="9.3" fill="#138b49"/><circle cx="303.8" cy="464.8" r="9.3" fill="#19954f"/><circle cx="317.2" cy="464.8" r="9.3" fill="#108647"/><circle cx="331.2" cy="480.2" r="9.3" fill="#3ea959"/><circle cx="260.4" cy="480.2" r="9.3" fill="#08773f"/><circle cx="245.7" cy="487.9" r="9.3" fill="#108647"/><circle cx="291.8" cy="487.9" r="9.3" fill="#138b49"/><circle cx="316.5" cy="480.2" r="9.3" fill="#108647"/><circle cx="316.5" cy="487.9" r="9.3" fill="#108647"/><circle cx="225.7" cy="487.9" r="9.3" fill="#08773f"/><circle cx="263.8" cy="495.7" r="9.3" fill="#138b49"/><circle cx="339.2" cy="495.7" r="9.3" fill="#19954f"/><circle cx="220.3" cy="511.1" r="9.3" fill="#16904c"/><circle cx="280.5" cy="511.1" r="9.3" fill="#36a557"/><circle cx="308.5" cy="511.1" r="9.3" fill="#1e9a51"/><circle cx="324.6" cy="511.1" r="9.3" fill="#0b7c41"/><circle cx="235.7" cy="518.8" r="9.3" fill="#36a557"/><circle cx="255.1" cy="526.5" r="9.3" fill="#19954f"/><circle cx="295.2" cy="526.5" r="9.3" fill="#138b49"/><circle cx="324.6" cy="534.3" r="9.3" fill="#08773f"/><circle cx="340.6" cy="526.5" r="9.3" fill="#19954f"/><circle cx="268.4" cy="526.5" r="9.3" fill="#16904c"/><circle cx="227.0" cy="534.3" r="9.3" fill="#6cc064"/><circle cx="257.8" cy="534.3" r="9.3" fill="#16904c"/><circle cx="311.2" cy="534.3" r="9.3" fill="#3ea959"/><circle cx="122.0" cy="534.3" r="9.3" fill="#08773f"/><circle cx="156.5" cy="534.3" r="9.3" fill="#46ad5b"/><circle cx="201.9" cy="542.0" r="9.3" fill="#08773f"/><circle cx="122.0" cy="546.7" r="9.3" fill="#a2d76a"/><circle cx="181.8" cy="542.0" r="9.3" fill="#16904c"/><circle cx="147.1" cy="549.7" r="9.3" fill="#08773f"/><circle cx="167.1" cy="553.4" r="9.3" fill="#19954f"/><circle cx="195.2" cy="549.7" r="9.3" fill="#08773f"/><circle cx="219.3" cy="546.7" r="9.3" fill="#46ad5b"/><circle cx="124.4" cy="560.1" r="9.3" fill="#16904c"/><circle cx="311.2" cy="542.0" r="9.3" fill="#46ad5b"/><circle cx="226.4" cy="549.7" r="9.3" fill="#3ea959"/><circle cx="256.4" cy="542.0" r="9.3" fill="#19954f"/><circle cx="273.8" cy="549.7" r="9.3" fill="#07743d"/><circle cx="287.8" cy="542.0" r="9.3" fill="#19954f"/><circle cx="307.2" cy="557.4" r="9.3" fill="#05723c"/><circle cx="268.4" cy="565.1" r="9.3" fill="#16904c"/><circle cx="337.9" cy="546.7" r="9.3" fill="#08773f"/><circle cx="297.8" cy="534.3" r="9.3" fill="#19954f"/><circle cx="238.0" cy="302.7" r="9.3" fill="#36a557"/><circle cx="132.4" cy="534.3" r="9.3" fill="#a2d76a"/><circle cx="169.1" cy="542.0" r="9.3" fill="#b8e176"/><circle cx="351.6" cy="619.2" r="9.3" fill="#c3e57d"/><circle cx="468.8" cy="603.7" r="9.3" fill="#addc6f"/><circle cx="479.0" cy="611.5" r="9.3" fill="#4eb15d"/><circle cx="251.1" cy="626.9" r="9.3" fill="#19954f"/></g><rect x="87" y="11.8" width="735" height="690" fill="none" stroke="#000" stroke-width="2.3"/><line x1="78.3" y1="701.8" x2="87" y2="701.8" stroke="#000" stroke-width="2.3"/><path d="M48.85 711.10L46.50 711.10L46.50 696.15Q45.65 696.95 44.27 697.76Q42.89 698.57 41.80 698.98L41.80 696.71Q43.76 695.78 45.24 694.46Q46.71 693.15 47.32 691.91L48.85 691.91Z" fill="#000"/><text x="53.75" y="0" transform="translate(0,711.10) scale(1,1.04)" class="t">8</text><line x1="78.3" y1="586.8" x2="87" y2="586.8" stroke="#000" stroke-width="2.3"/><text x="38.90 53.75" y="0" transform="translate(0,596.10) scale(1,1.04)" class="t">20</text><line x1="78.3" y1="471.8" x2="87" y2="471.8" stroke="#000" stroke-width="2.3"/><text x="38.90 53.75" y="0" transform="translate(0,481.10) scale(1,1.04)" class="t">22</text><line x1="78.3" y1="356.8" x2="87" y2="356.8" stroke="#000" stroke-width="2.3"/><text x="38.90 53.75" y="0" transform="translate(0,366.10) scale(1,1.04)" class="t">24</text><line x1="78.3" y1="241.8" x2="87" y2="241.8" stroke="#000" stroke-width="2.3"/><text x="38.90 53.75" y="0" transform="translate(0,251.10) scale(1,1.04)" class="t">26</text><line x1="78.3" y1="126.8" x2="87" y2="126.8" stroke="#000" stroke-width="2.3"/><text x="38.90 53.75" y="0" transform="translate(0,136.10) scale(1,1.04)" class="t">28</text><line x1="78.3" y1="11.8" x2="87" y2="11.8" stroke="#000" stroke-width="2.3"/><text x="38.90 53.75" y="0" transform="translate(0,21.10) scale(1,1.04)" class="t">30</text><line x1="118.9" y1="701.8" x2="118.9" y2="710.6" stroke="#000" stroke-width="2.3"/><text x="111.48" y="0" transform="translate(0,739.40) scale(1,1.04)" class="t">0</text><line x1="219.5" y1="701.8" x2="219.5" y2="710.6" stroke="#000" stroke-width="2.3"/><path d="M222.02 739.40L219.68 739.40L219.68 724.45Q218.83 725.25 217.45 726.06Q216.06 726.87 214.97 727.28L214.97 725.01Q216.94 724.08 218.41 722.76Q219.88 721.45 220.50 720.21L222.02 720.21Z" fill="#000"/><line x1="320.1" y1="701.8" x2="320.1" y2="710.6" stroke="#000" stroke-width="2.3"/><text x="312.68" y="0" transform="translate(0,739.40) scale(1,1.04)" class="t">2</text><line x1="420.7" y1="701.8" x2="420.7" y2="710.6" stroke="#000" stroke-width="2.3"/><text x="413.28" y="0" transform="translate(0,739.40) scale(1,1.04)" class="t">3</text><line x1="521.3" y1="701.8" x2="521.3" y2="710.6" stroke="#000" stroke-width="2.3"/><text x="513.88" y="0" transform="translate(0,739.40) scale(1,1.04)" class="t">4</text><line x1="621.9" y1="701.8" x2="621.9" y2="710.6" stroke="#000" stroke-width="2.3"/><text x="614.48" y="0" transform="translate(0,739.40) scale(1,1.04)" class="t">5</text><line x1="722.5" y1="701.8" x2="722.5" y2="710.6" stroke="#000" stroke-width="2.3"/><text x="715.08" y="0" transform="translate(0,739.40) scale(1,1.04)" class="t">6</text><text x="454.7" y="0" transform="translate(0,775.2) scale(1,1.04)" text-anchor="middle" class="t">MEP <tspan font-style="italic">V</tspan><tspan font-style="italic" font-size="18.7" dy="3.7">PP</tspan><tspan dy="-3.7"> [mV]</tspan></text><text transform="translate(22,357) rotate(-90) scale(1,1.04)" text-anchor="middle" class="t">MEP manually annotated latency [ms]</text><rect x="867.9" y="11.8" width="34.8" height="690.2" fill="url(#cb)" stroke="#000" stroke-width="2.3"/><line x1="902.6" y1="556.9" x2="911.6" y2="556.9" stroke="#000" stroke-width="2.3"/><path d="M929.95 566.20L927.60 566.20L927.60 551.25Q926.75 552.05 925.37 552.86Q923.99 553.67 922.89 554.08L922.89 551.81Q924.86 550.88 926.34 549.56Q927.81 548.25 928.42 547.01L929.95 547.01Z" fill="#000"/><line x1="902.6" y1="411.9" x2="911.6" y2="411.9" stroke="#000" stroke-width="2.3"/><text x="920.00" y="0" transform="translate(0,421.20) scale(1,1.04)" class="t">2</text><line x1="902.6" y1="266.9" x2="911.6" y2="266.9" stroke="#000" stroke-width="2.3"/><text x="920.00" y="0" transform="translate(0,276.20) scale(1,1.04)" class="t">3</text><line x1="902.6" y1="121.9" x2="911.6" y2="121.9" stroke="#000" stroke-width="2.3"/><text x="920.00" y="0" transform="translate(0,131.20) scale(1,1.04)" class="t">4</text><text transform="translate(965.2,357.9) rotate(-90) scale(1,1.04)" text-anchor="middle" class="t">Automated latency error [ms]</text><rect x="409.4" y="22" width="400" height="205.8" fill="#fff"/><g fill="#000" fill-opacity="0.27" stroke="#000" stroke-opacity="0.27" stroke-width="2.6"><circle cx="436.3" cy="187.1" r="7.9"/><circle cx="434.8" cy="219.0" r="7.9"/><circle cx="544.1" cy="215.6" r="7.9"/><circle cx="438.1" cy="212.0" r="7.9"/><circle cx="577.9" cy="219.0" r="7.9"/><circle cx="427.2" cy="188.6" r="7.9"/><circle cx="462.2" cy="210.1" r="7.9"/><circle cx="481.7" cy="207.8" r="7.9"/><circle cx="467.7" cy="210.4" r="7.9"/><circle cx="467.9" cy="216.1" r="7.9"/><circle cx="441.8" cy="184.9" r="7.9"/><circle cx="468.5" cy="205.1" r="7.9"/><circle cx="465.4" cy="179.4" r="7.9"/><circle cx="460.6" cy="209.6" r="7.9"/><circle cx="481.9" cy="182.1" r="7.9"/><circle cx="459.5" cy="179.2" r="7.9"/><circle cx="497.1" cy="214.6" r="7.9"/><circle cx="445.4" cy="180.0" r="7.9"/><circle cx="504.4" cy="190.9" r="7.9"/><circle cx="460.8" cy="215.6" r="7.9"/><circle cx="547.6" cy="213.2" r="7.9"/><circle cx="452.8" cy="178.7" r="7.9"/><circle cx="435.5" cy="197.5" r="7.9"/><circle cx="481.7" cy="183.8" r="7.9"/><circle cx="434.4" cy="190.8" r="7.9"/><circle cx="571.1" cy="219.0" r="7.9"/><circle cx="460.1" cy="207.1" r="7.9"/><circle cx="435.1" cy="178.3" r="7.9"/><circle cx="438.3" cy="201.6" r="7.9"/><circle cx="461.9" cy="184.5" r="7.9"/><circle cx="460.5" cy="176.6" r="7.9"/><circle cx="457.4" cy="173.6" r="7.9"/><circle cx="464.1" cy="201.1" r="7.9"/><circle cx="468.9" cy="215.7" r="7.9"/><circle cx="444.6" cy="186.4" r="7.9"/><circle cx="445.1" cy="209.4" r="7.9"/><circle cx="491.6" cy="187.8" r="7.9"/><circle cx="475.0" cy="181.8" r="7.9"/><circle cx="431.3" cy="214.6" r="7.9"/><circle cx="450.1" cy="216.4" r="7.9"/><circle cx="446.6" cy="208.3" r="7.9"/><circle cx="430.3" cy="215.2" r="7.9"/><circle cx="439.3" cy="174.9" r="7.9"/><circle cx="484.5" cy="196.9" r="7.9"/><circle cx="485.0" cy="185.6" r="7.9"/><circle cx="451.0" cy="191.9" r="7.9"/><circle cx="449.6" cy="179.8" r="7.9"/><circle cx="429.3" cy="216.6" r="7.9"/><circle cx="491.6" cy="188.1" r="7.9"/><circle cx="454.3" cy="210.9" r="7.9"/><circle cx="428.1" cy="168.3" r="7.9"/><circle cx="429.7" cy="177.2" r="7.9"/><circle cx="472.8" cy="186.7" r="7.9"/><circle cx="441.5" cy="201.0" r="7.9"/><circle cx="472.2" cy="199.2" r="7.9"/><circle cx="438.8" cy="174.8" r="7.9"/><circle cx="528.2" cy="214.4" r="7.9"/><circle cx="478.9" cy="183.6" r="7.9"/><circle cx="433.8" cy="178.8" r="7.9"/><circle cx="453.6" cy="217.1" r="7.9"/><circle cx="438.5" cy="193.3" r="7.9"/><circle cx="448.9" cy="201.1" r="7.9"/><circle cx="430.7" cy="187.8" r="7.9"/><circle cx="468.4" cy="201.1" r="7.9"/><circle cx="448.6" cy="183.5" r="7.9"/><circle cx="505.4" cy="210.9" r="7.9"/><circle cx="569.3" cy="219.0" r="7.9"/><circle cx="442.7" cy="191.3" r="7.9"/><circle cx="500.3" cy="210.9" r="7.9"/><circle cx="455.5" cy="177.1" r="7.9"/><circle cx="506.2" cy="192.6" r="7.9"/><circle cx="478.5" cy="189.1" r="7.9"/><circle cx="506.2" cy="199.3" r="7.9"/><circle cx="486.1" cy="202.4" r="7.9"/><circle cx="517.0" cy="209.2" r="7.9"/><circle cx="577.5" cy="219.0" r="7.9"/><circle cx="434.1" cy="199.0" r="7.9"/><circle cx="442.3" cy="215.9" r="7.9"/><circle cx="437.8" cy="170.6" r="7.9"/><circle cx="454.0" cy="180.1" r="7.9"/><circle cx="447.4" cy="211.9" r="7.9"/><circle cx="440.1" cy="172.9" r="7.9"/><circle cx="468.6" cy="205.4" r="7.9"/><circle cx="457.0" cy="187.8" r="7.9"/><circle cx="479.8" cy="195.7" r="7.9"/><circle cx="431.0" cy="189.9" r="7.9"/><circle cx="505.3" cy="200.9" r="7.9"/><circle cx="444.7" cy="173.2" r="7.9"/><circle cx="429.9" cy="189.8" r="7.9"/><circle cx="501.2" cy="189.9" r="7.9"/><circle cx="484.9" cy="196.2" r="7.9"/><circle cx="559.2" cy="217.5" r="7.9"/><circle cx="437.9" cy="199.7" r="7.9"/><circle cx="467.4" cy="199.4" r="7.9"/><circle cx="444.4" cy="210.8" r="7.9"/><circle cx="432.5" cy="214.7" r="7.9"/><circle cx="485.6" cy="188.0" r="7.9"/><circle cx="428.9" cy="198.0" r="7.9"/><circle cx="451.9" cy="192.8" r="7.9"/><circle cx="462.5" cy="192.0" r="7.9"/><circle cx="513.2" cy="200.6" r="7.9"/><circle cx="429.7" cy="216.0" r="7.9"/><circle cx="433.6" cy="200.3" r="7.9"/><circle cx="511.6" cy="206.7" r="7.9"/><circle cx="440.8" cy="183.3" r="7.9"/><circle cx="457.7" cy="216.3" r="7.9"/><circle cx="452.5" cy="174.3" r="7.9"/><circle cx="554.0" cy="216.4" r="7.9"/><circle cx="449.8" cy="183.3" r="7.9"/><circle cx="484.8" cy="191.8" r="7.9"/><circle cx="454.1" cy="206.1" r="7.9"/><circle cx="455.0" cy="211.3" r="7.9"/><circle cx="477.4" cy="203.7" r="7.9"/><circle cx="505.9" cy="198.6" r="7.9"/><circle cx="434.0" cy="169.5" r="7.9"/><circle cx="457.4" cy="198.8" r="7.9"/><circle cx="448.7" cy="168.2" r="7.9"/><circle cx="452.1" cy="170.2" r="7.9"/><circle cx="474.1" cy="209.9" r="7.9"/><circle cx="525.8" cy="204.3" r="7.9"/><circle cx="467.6" cy="201.0" r="7.9"/><circle cx="428.8" cy="183.5" r="7.9"/><circle cx="434.6" cy="165.4" r="7.9"/><circle cx="495.2" cy="208.5" r="7.9"/><circle cx="432.1" cy="184.9" r="7.9"/><circle cx="486.4" cy="199.8" r="7.9"/><circle cx="436.8" cy="187.3" r="7.9"/><circle cx="430.9" cy="206.1" r="7.9"/><circle cx="429.2" cy="199.4" r="7.9"/><circle cx="450.8" cy="217.6" r="7.9"/><circle cx="476.7" cy="188.7" r="7.9"/><circle cx="551.7" cy="217.5" r="7.9"/><circle cx="441.4" cy="181.8" r="7.9"/><circle cx="449.4" cy="175.1" r="7.9"/><circle cx="508.1" cy="204.6" r="7.9"/><circle cx="432.9" cy="165.1" r="7.9"/><circle cx="461.7" cy="192.8" r="7.9"/><circle cx="439.4" cy="165.5" r="7.9"/><circle cx="436.1" cy="174.8" r="7.9"/><circle cx="468.8" cy="198.8" r="7.9"/><circle cx="436.7" cy="186.6" r="7.9"/><circle cx="436.2" cy="182.3" r="7.9"/><circle cx="464.0" cy="207.0" r="7.9"/><circle cx="472.0" cy="187.3" r="7.9"/><circle cx="508.9" cy="204.9" r="7.9"/><circle cx="450.4" cy="188.1" r="7.9"/><circle cx="445.0" cy="214.7" r="7.9"/><circle cx="441.1" cy="185.0" r="7.9"/><circle cx="430.9" cy="190.0" r="7.9"/><circle cx="536.5" cy="211.1" r="7.9"/><circle cx="508.7" cy="218.3" r="7.9"/><circle cx="463.9" cy="198.9" r="7.9"/><circle cx="463.1" cy="199.3" r="7.9"/><circle cx="472.8" cy="218.9" r="7.9"/><circle cx="475.9" cy="203.0" r="7.9"/><circle cx="439.2" cy="191.7" r="7.9"/><circle cx="478.2" cy="183.2" r="7.9"/><circle cx="501.5" cy="205.4" r="7.9"/><circle cx="468.4" cy="200.0" r="7.9"/><circle cx="566.1" cy="218.9" r="7.9"/><circle cx="508.2" cy="203.9" r="7.9"/><circle cx="480.1" cy="218.3" r="7.9"/><circle cx="431.3" cy="207.6" r="7.9"/><circle cx="479.9" cy="215.6" r="7.9"/><circle cx="459.0" cy="197.5" r="7.9"/><circle cx="455.5" cy="203.5" r="7.9"/><circle cx="517.2" cy="200.1" r="7.9"/><circle cx="435.2" cy="178.9" r="7.9"/><circle cx="439.5" cy="196.6" r="7.9"/><circle cx="475.8" cy="191.7" r="7.9"/><circle cx="450.2" cy="214.0" r="7.9"/><circle cx="463.5" cy="191.4" r="7.9"/><circle cx="461.2" cy="206.6" r="7.9"/><circle cx="459.4" cy="189.6" r="7.9"/><circle cx="471.1" cy="196.4" r="7.9"/><circle cx="473.9" cy="205.2" r="7.9"/><circle cx="450.6" cy="199.7" r="7.9"/><circle cx="450.8" cy="211.7" r="7.9"/><circle cx="447.8" cy="171.5" r="7.9"/><circle cx="443.0" cy="188.6" r="7.9"/><circle cx="431.2" cy="178.4" r="7.9"/><circle cx="433.7" cy="168.4" r="7.9"/><circle cx="451.4" cy="189.5" r="7.9"/><circle cx="518.7" cy="217.9" r="7.9"/><circle cx="438.4" cy="205.4" r="7.9"/><circle cx="456.6" cy="191.9" r="7.9"/><circle cx="454.5" cy="217.1" r="7.9"/><circle cx="459.5" cy="216.2" r="7.9"/><circle cx="463.6" cy="198.0" r="7.9"/><circle cx="463.8" cy="211.0" r="7.9"/><circle cx="471.2" cy="214.0" r="7.9"/><circle cx="472.3" cy="182.2" r="7.9"/><circle cx="494.4" cy="211.6" r="7.9"/><circle cx="447.9" cy="171.8" r="7.9"/><circle cx="449.3" cy="205.1" r="7.9"/><circle cx="454.5" cy="196.6" r="7.9"/><circle cx="429.5" cy="189.9" r="7.9"/><circle cx="435.1" cy="165.3" r="7.9"/><circle cx="534.0" cy="218.4" r="7.9"/><circle cx="434.2" cy="176.2" r="7.9"/><circle cx="461.4" cy="187.7" r="7.9"/><circle cx="451.9" cy="179.1" r="7.9"/><circle cx="428.8" cy="213.9" r="7.9"/><circle cx="453.2" cy="218.0" r="7.9"/><circle cx="460.4" cy="173.0" r="7.9"/><circle cx="440.3" cy="198.3" r="7.9"/><circle cx="442.7" cy="208.2" r="7.9"/><circle cx="446.3" cy="185.4" r="7.9"/><circle cx="454.4" cy="190.6" r="7.9"/><circle cx="439.9" cy="167.5" r="7.9"/><circle cx="438.8" cy="210.2" r="7.9"/><circle cx="458.4" cy="203.4" r="7.9"/><circle cx="433.8" cy="199.2" r="7.9"/><circle cx="453.4" cy="210.7" r="7.9"/><circle cx="432.4" cy="187.7" r="7.9"/><circle cx="458.5" cy="207.9" r="7.9"/><circle cx="514.9" cy="215.7" r="7.9"/><circle cx="558.3" cy="217.3" r="7.9"/><circle cx="443.6" cy="188.9" r="7.9"/><circle cx="453.5" cy="189.1" r="7.9"/><circle cx="500.4" cy="204.4" r="7.9"/><circle cx="434.9" cy="204.7" r="7.9"/><circle cx="462.5" cy="184.9" r="7.9"/><circle cx="447.1" cy="165.8" r="7.9"/><circle cx="512.8" cy="201.0" r="7.9"/><circle cx="467.5" cy="201.8" r="7.9"/><circle cx="463.0" cy="218.9" r="7.9"/><circle cx="427.7" cy="191.5" r="7.9"/><circle cx="507.8" cy="199.4" r="7.9"/><circle cx="433.8" cy="200.6" r="7.9"/><circle cx="483.9" cy="190.6" r="7.9"/><circle cx="435.8" cy="181.1" r="7.9"/><circle cx="449.4" cy="216.9" r="7.9"/><circle cx="482.7" cy="197.2" r="7.9"/><circle cx="462.6" cy="203.8" r="7.9"/><circle cx="455.7" cy="187.9" r="7.9"/><circle cx="437.3" cy="178.7" r="7.9"/><circle cx="442.4" cy="218.0" r="7.9"/><circle cx="434.3" cy="178.4" r="7.9"/><circle cx="447.5" cy="167.9" r="7.9"/><circle cx="484.4" cy="192.4" r="7.9"/><circle cx="433.0" cy="219.0" r="7.9"/><circle cx="450.9" cy="215.6" r="7.9"/><circle cx="429.0" cy="210.6" r="7.9"/><circle cx="468.0" cy="188.9" r="7.9"/><circle cx="454.5" cy="177.8" r="7.9"/><circle cx="456.3" cy="213.8" r="7.9"/><circle cx="436.7" cy="217.6" r="7.9"/><circle cx="428.7" cy="205.3" r="7.9"/><circle cx="489.2" cy="187.9" r="7.9"/><circle cx="449.6" cy="139.2" r="7.9"/><circle cx="437.8" cy="149.9" r="7.9"/><circle cx="447.8" cy="154.7" r="7.9"/><circle cx="441.2" cy="158.4" r="7.9"/><circle cx="444.3" cy="33.9" r="7.9"/><circle cx="431.6" cy="96.3" r="7.9"/><circle cx="434.9" cy="115.7" r="7.9"/><circle cx="440.7" cy="115.7" r="7.9"/><circle cx="443.2" cy="116.6" r="7.9"/><circle cx="429.9" cy="124.9" r="7.9"/><circle cx="426.6" cy="125.7" r="7.9"/><circle cx="433.2" cy="123.2" r="7.9"/><circle cx="437.3" cy="127.3" r="7.9"/><circle cx="449.8" cy="127.3" r="7.9"/><circle cx="460.6" cy="124.9" r="7.9"/><circle cx="479.6" cy="135.6" r="7.9"/><circle cx="445.6" cy="135.6" r="7.9"/><circle cx="429.9" cy="138.1" r="7.9"/><circle cx="443.2" cy="139.8" r="7.9"/><circle cx="449.0" cy="134.8" r="7.9"/><circle cx="426.6" cy="146.4" r="7.9"/><circle cx="434.9" cy="148.1" r="7.9"/><circle cx="449.8" cy="154.7" r="7.9"/><circle cx="442.3" cy="153.0" r="7.9"/><circle cx="452.3" cy="163.0" r="7.9"/><circle cx="475.5" cy="160.5" r="7.9"/><circle cx="482.9" cy="159.7" r="7.9"/><circle cx="480.4" cy="163.0" r="7.9"/><circle cx="490.4" cy="167.1" r="7.9"/><circle cx="513.6" cy="167.1" r="7.9"/><circle cx="508.6" cy="182.9" r="7.9"/><circle cx="522.7" cy="187.8" r="7.9"/><circle cx="526.0" cy="192.8" r="7.9"/><circle cx="476.3" cy="177.1" r="7.9"/><circle cx="489.6" cy="189.5" r="7.9"/><circle cx="499.5" cy="199.5" r="7.9"/><circle cx="509.5" cy="202.8" r="7.9"/><circle cx="551.5" cy="120.7" r="7.9"/><circle cx="600.9" cy="148.4" r="7.9"/><circle cx="670.9" cy="169.6" r="7.9"/><circle cx="659.3" cy="182.9" r="7.9"/><circle cx="664.3" cy="209.4" r="7.9"/><circle cx="609.2" cy="183.7" r="7.9"/><circle cx="616.2" cy="197.8" r="7.9"/><circle cx="622.8" cy="198.7" r="7.9"/><circle cx="622.0" cy="201.1" r="7.9"/><circle cx="615.3" cy="207.8" r="7.9"/><circle cx="609.5" cy="217.7" r="7.9"/><circle cx="637.7" cy="215.2" r="7.9"/><circle cx="637.7" cy="215.2" r="7.9"/><circle cx="637.5" cy="215.4" r="7.9"/><circle cx="637.9" cy="215.0" r="7.9"/><circle cx="583.0" cy="192.0" r="7.9"/><circle cx="576.4" cy="200.3" r="7.9"/><circle cx="569.7" cy="201.1" r="7.9"/><circle cx="545.7" cy="191.2" r="7.9"/><circle cx="553.2" cy="202.0" r="7.9"/><circle cx="525.0" cy="187.9" r="7.9"/><circle cx="525.5" cy="188.3" r="7.9"/><circle cx="524.6" cy="187.5" r="7.9"/><circle cx="530.0" cy="192.9" r="7.9"/><circle cx="541.6" cy="199.5" r="7.9"/><circle cx="543.2" cy="207.8" r="7.9"/><circle cx="533.3" cy="207.8" r="7.9"/><circle cx="523.3" cy="206.1" r="7.9"/><circle cx="559.8" cy="216.1" r="7.9"/><circle cx="560.2" cy="216.3" r="7.9"/><circle cx="559.4" cy="215.9" r="7.9"/><circle cx="564.8" cy="215.2" r="7.9"/><circle cx="554.8" cy="217.7" r="7.9"/><circle cx="583.0" cy="214.4" r="7.9"/><circle cx="583.4" cy="214.6" r="7.9"/><circle cx="588.0" cy="216.1" r="7.9"/><circle cx="597.9" cy="216.9" r="7.9"/><circle cx="606.2" cy="218.6" r="7.9"/><circle cx="536.6" cy="216.1" r="7.9"/><circle cx="526.6" cy="217.7" r="7.9"/><circle cx="689.1" cy="193.3" r="7.9"/><circle cx="720.8" cy="203.1" r="7.9"/><circle cx="763.2" cy="213.0" r="7.9"/><circle cx="778.2" cy="195.9" r="7.9"/><circle cx="783.7" cy="216.3" r="7.9"/></g><polyline points="409.4,23.6 409.4,227.8 801.8,227.8" fill="none" stroke="#000" stroke-width="2.3"/><line x1="400.4" y1="169.8" x2="409.4" y2="169.8" stroke="#000" stroke-width="2.3"/><text x="375.65" y="0" transform="translate(0,179.10) scale(1,1.04)" class="t">2</text><line x1="400.4" y1="70.8" x2="409.4" y2="70.8" stroke="#000" stroke-width="2.3"/><text x="375.65" y="0" transform="translate(0,80.10) scale(1,1.04)" class="t">4</text><line x1="424.6" y1="227.8" x2="424.6" y2="236.8" stroke="#000" stroke-width="2.3"/><text x="417.18" y="0" transform="translate(0,265.60) scale(1,1.04)" class="t">0</text><line x1="526.0" y1="227.8" x2="526.0" y2="236.8" stroke="#000" stroke-width="2.3"/><path d="M528.52 265.60L526.18 265.60L526.18 250.65Q525.33 251.45 523.95 252.26Q522.56 253.07 521.47 253.48L521.47 251.21Q523.44 250.28 524.91 248.96Q526.38 247.65 527.00 246.41L528.52 246.41Z" fill="#000"/><line x1="627.4" y1="227.8" x2="627.4" y2="236.8" stroke="#000" stroke-width="2.3"/><text x="619.98" y="0" transform="translate(0,265.60) scale(1,1.04)" class="t">2</text><line x1="728.8" y1="227.8" x2="728.8" y2="236.8" stroke="#000" stroke-width="2.3"/><text x="721.38" y="0" transform="translate(0,265.60) scale(1,1.04)" class="t">3</text><text x="605.7" y="0" transform="translate(0,301.6) scale(1,1.04)" text-anchor="middle" class="t">MEP <tspan font-style="italic">V</tspan><tspan font-style="italic" font-size="18.7" dy="3.7">PP</tspan><tspan dy="-3.7"> [mV]</tspan></text><text transform="translate(360.2,127) rotate(-90) scale(1,1.04)" text-anchor="middle" class="t">Aut. lat. error [ms]</text></svg>
</body></html>
